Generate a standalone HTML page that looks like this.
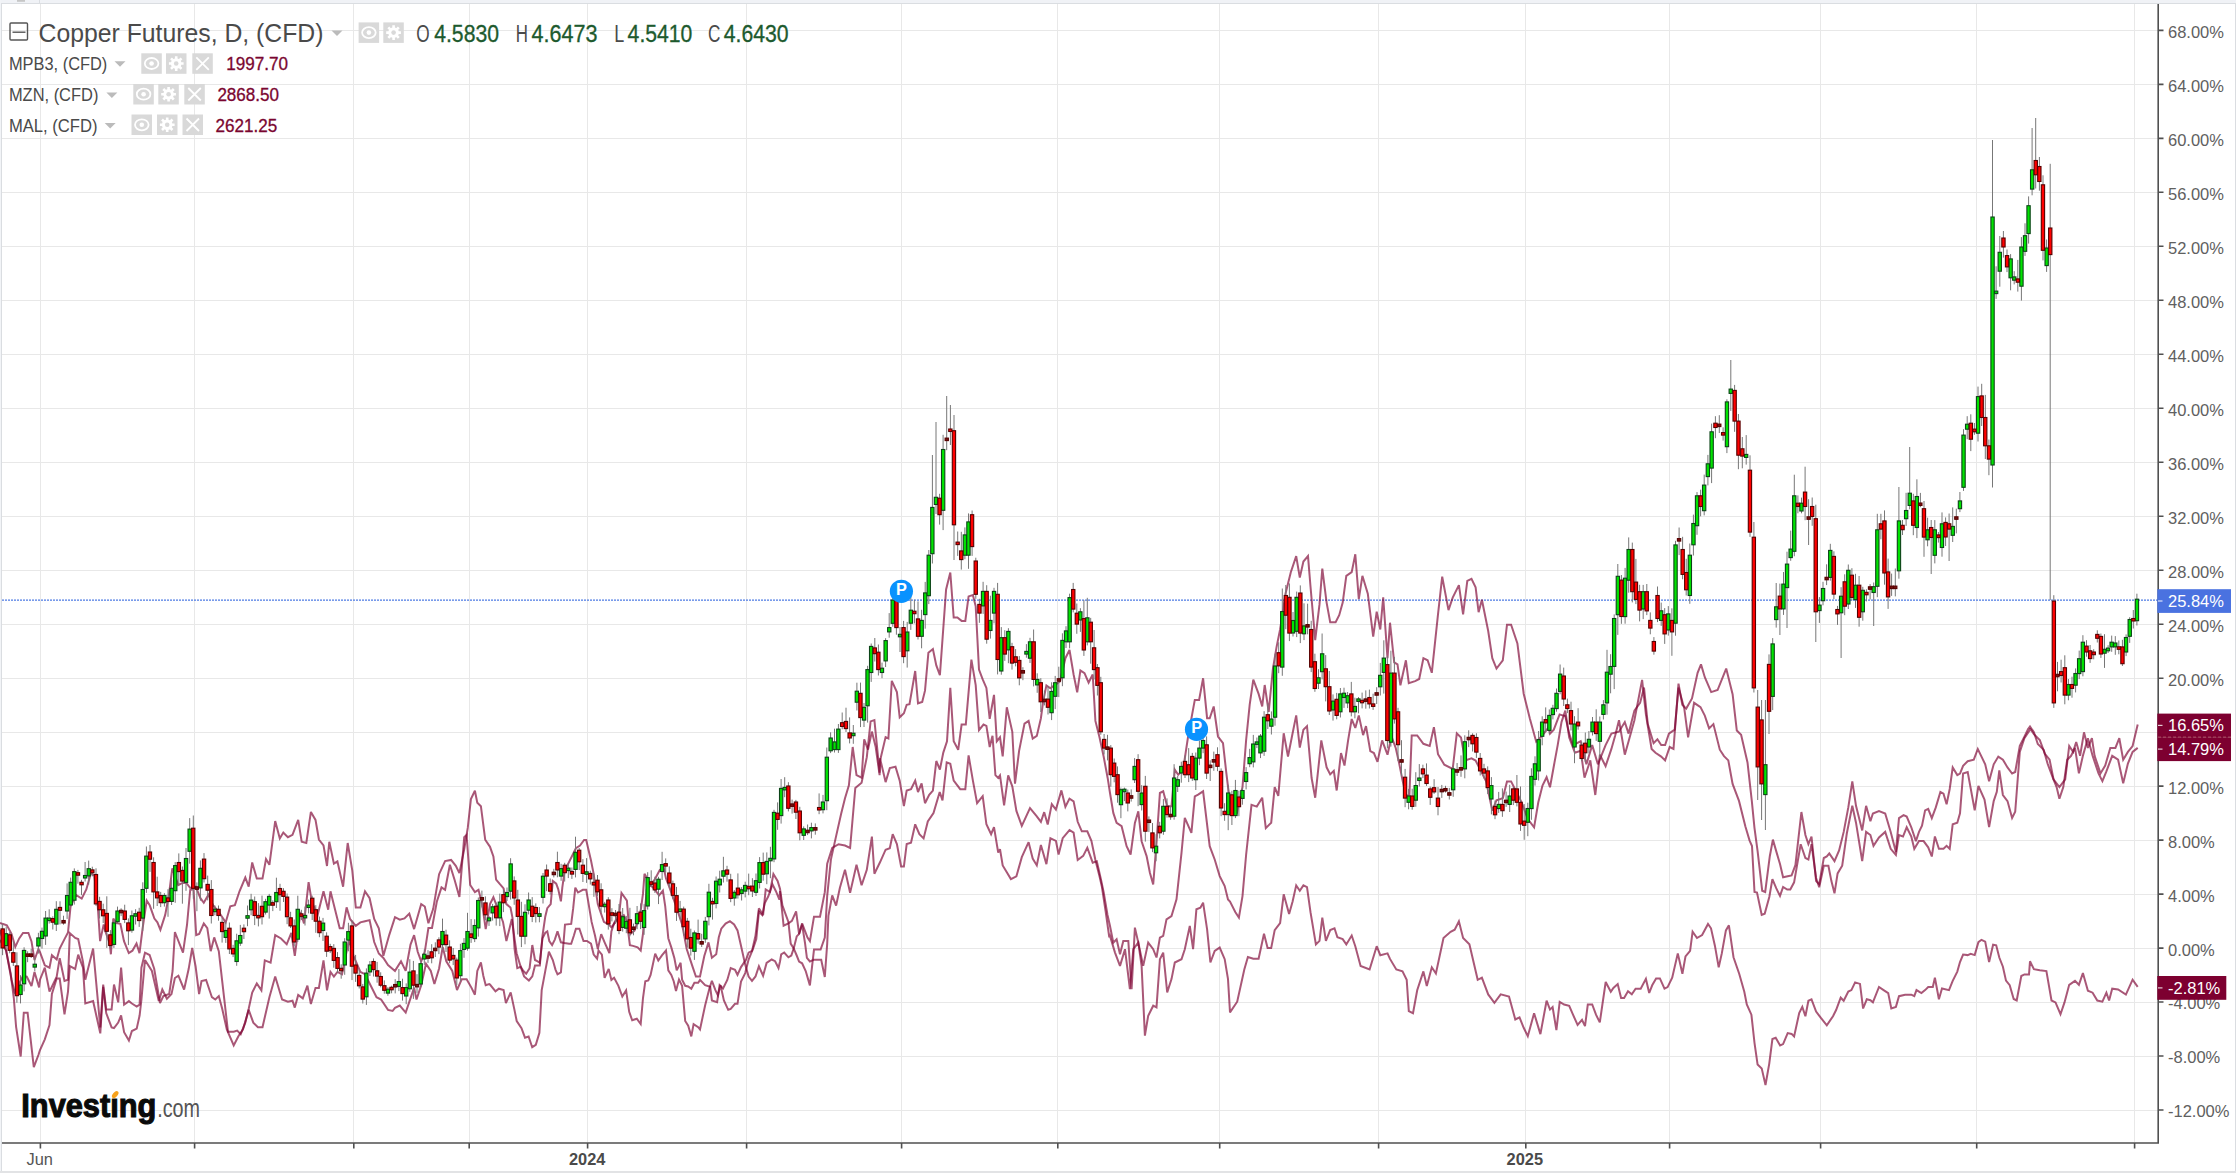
<!DOCTYPE html>
<html><head><meta charset="utf-8"><title>Copper Futures Chart</title><style>html,body{margin:0;padding:0;background:#fff;}body{width:2236px;height:1173px;overflow:hidden;}svg{display:block;}</style></head><body><svg width="2236" height="1173" viewBox="0 0 2236 1173"><rect x="0" y="0" width="2236" height="1173" fill="#ffffff"/><rect x="0" y="0" width="2236" height="3" fill="#f0f2f6"/><rect x="0" y="3" width="2236" height="1" fill="#dadde1"/><rect x="17" y="0" width="8" height="1.8" fill="#c6c6c6"/><rect x="39" y="0" width="1" height="3" fill="#dadde1"/><rect x="0" y="0" width="1" height="1173" fill="#f2f4f7"/><rect x="1" y="3" width="1" height="1170" fill="#dadde1"/><rect x="2235" y="3" width="1" height="1170" fill="#dadde1"/><rect x="0" y="1171" width="2236" height="2" fill="#e2e3e5"/><path d="M2 30.4H2158M2 84.4H2158M2 138.4H2158M2 192.3H2158M2 246.3H2158M2 300.3H2158M2 354.3H2158M2 408.3H2158M2 462.2H2158M2 516.2H2158M2 570.2H2158M2 624.2H2158M2 678.2H2158M2 732.1H2158M2 786.1H2158M2 840.1H2158M2 894.1H2158M2 948.1H2158M2 1002H2158M2 1056H2158M2 1110H2158M40.4 4V1142M194.6 4V1142M353.8 4V1142M469.2 4V1142M587.6 4V1142M746.6 4V1142M901.6 4V1142M1057.8 4V1142M1219.7 4V1142M1378.6 4V1142M1525.8 4V1142M1669.6 4V1142M1820.6 4V1142M1976.7 4V1142M2134.6 4V1142" stroke="#e8e8e8" stroke-width="1" fill="none" shape-rendering="crispEdges"/><path d="M2 600.2H2158" stroke="#4d7be3" stroke-width="1.2" stroke-dasharray="2 1" fill="none"/><g fill="none" stroke="#7d0030" stroke-opacity="0.66" stroke-width="2" stroke-linejoin="miter" stroke-miterlimit="3"><polyline points="0,922.8 2.3,923.8 6.9,925.3 11.5,933.8 15.3,946.8 19.2,938.4 23,933 28.4,933 31.5,941.4 34.5,960 38.4,949 40,952.2 44.8,965.3 49.5,967.7 51.9,955.2 56.7,959.4 59.7,948.6 64.5,939.1 68,932.5 70.6,906 76,895 81.7,898.6 86.3,889.4 90.9,873.3 94.4,875.6 97.8,906.7 100.1,941.1 103.7,924.4 105.5,931.6 109.7,943.5 110.9,954.3 113.3,918.5 116.3,923.2 120.4,923.8 124,941.1 128.8,953.1 132.4,950.7 136.5,943.5 139.5,953.1 142.5,929.2 146.7,900.6 149.7,905.3 154.4,918.5 157.4,922.3 160.4,929.8 165.2,914.9 168.8,895.8 172.3,868.4 178.3,885 183,882.7 186.7,883.3 190.2,888 195.8,886.7 200.4,898.2 203.8,902.8 208.4,894.8 213,905.1 218.8,912 225.7,922.4 230.3,906.3 234.9,905.1 239.5,891.3 245.3,877.5 248.7,886.7 252.2,862.5 256.8,878.6 262.5,878.6 266,859.1 269.4,864.8 275.2,821.1 279.8,838.4 283.3,832.6 287.9,837.2 292.5,834.9 298.2,819.9 301.7,841.8 306.3,843 310.9,811.9 315.5,819.9 318.9,839.5 323.5,845.3 327,866 329.3,841.8 333.9,863.7 337.4,861.4 343.1,886.7 347.7,843 352.3,870.6 355.8,907.4 360.4,907.4 365,891.3 369.6,898.2 374.2,918.9 378.8,928.2 383.4,955.8 389.2,935.1 395,917.2 399.8,919.6 404.5,918.4 409.3,913.6 414.1,929.1 421.2,904.1 424.8,906.5 428.4,923.2 433.2,908.8 439.1,874.2 445.1,861.1 451.1,859.9 455.8,865.9 459.4,873.1 464.2,849.2 467.8,827.7 470.9,799.1 474.9,790.7 477.3,802.7 480.9,806.2 485.2,839.7 489.2,845.6 490,846.8 493.4,856.4 496.1,879.6 499.5,883.7 503.6,888.4 506.4,904.1 510.5,907.5 512.5,917.8 514.6,949.1 517.3,968.2 520.7,966.9 524.1,976.4 528.9,980.5 532.3,976.4 535,965.5 539.8,965.5 542.5,935.5 545.3,916.4 547.3,908.2 550.7,904.1 552.8,880.9 556.2,883.7 558.2,889.1 560.9,901.4 562.3,887.7 564.4,872.7 566.4,867.3 575.9,848.2 580,845.5 584.1,840 586.2,840 591,860.5 593.7,874.1 596.4,894.6 597.8,904.1 599.2,908.2 603.9,921.9 608.7,924.6 611.4,927.3 618.4,918.3 623.8,915.2 626.9,921.3 629.9,945.1 633,945.9 637.6,947.4 640.7,950.5 643,933.6 646.8,889.1 650.6,885.3 654.5,889.1 659.1,895.3 662.9,890.7 665.2,906 668.3,938.2 671.3,947.4 674.4,958.2 676.7,970.4 680.6,962.8 682.1,979.6 685.2,985.8 688.2,986.5 691.3,988.8 694.4,982.7 698.2,982.7 700,979.9 705.1,985.1 710.2,986.8 711.9,1000.4 717.1,1002.1 719.6,985.1 723,988.5 727.3,979.9 730.7,968 735,969.7 737.5,974.8 741,967.1 746.1,959.5 748.6,952.6 752,950.9 755.5,935.6 758.9,908.3 763.1,915.1 765.7,889.5 770,892 773.4,874.1 777.6,881 780,888.7 782.4,905.4 788.4,922 790.7,943.6 793.7,948.4 796.7,955.5 799.1,961.5 802.1,963.3 805.7,971 809.9,985.4 814,949.6 820.6,949.6 824.8,937.6 827.2,895.8 830.9,859.6 836,836.6 841.2,813.5 845,798.2 848.9,785.4 852.7,747 856.5,775.1 861.6,777.7 864.2,739.3 868,749.6 871.9,731.6 875.7,747 879.6,775.1 880,761 885.6,737.1 888.4,738.5 891.8,680.8 896.9,692.1 899.7,717.4 903.9,713.2 906.7,704.8 909.5,704.2 915.2,671 918,703.3 922.2,701.9 925,690.7 928.4,652.7 932.9,649 936.3,665.4 939.9,675.2 946.1,589.4 950.3,572.5 953.7,617.5 957.4,617.5 961.6,620.9 965.3,620.9 968.6,596.4 972.9,595 975.7,606.3 979,669.6 982.7,679.4 986.4,687.9 989.7,718.8 994,694.9 996.8,741.3 1000,737.3 1002.7,756.3 1006.8,707.3 1012.3,731.8 1015,783.6 1019.1,750.9 1024.5,723.6 1028.6,720.9 1032.7,738.6 1036.8,735.9 1040.9,718.2 1043.1,701.8 1046.4,685.4 1050.4,688.2 1054.5,685.4 1060,681.4 1065.4,658.2 1069.5,650 1073.6,674.5 1077.2,692.3 1080.4,670.4 1084.5,673.2 1088.6,682.7 1092.7,674.5 1095.4,720.9 1099.5,737.3 1103.6,756.3 1107.7,778.2 1110,793 1113.3,812.9 1116.6,822.9 1121.6,826.2 1126.6,846.2 1130.6,854.5 1134.9,822.9 1138.3,811.3 1141.6,841.2 1146.6,856.1 1149.9,872.8 1153.2,884.4 1156.5,842.8 1159.9,793 1163.2,791.3 1167.2,806.3 1171.5,806.3 1174.8,769.7 1178.2,774.7 1183.1,769.7 1188.1,736.5 1194.8,699.9 1199.1,699.9 1203.1,678.3 1207.1,718.2 1209.7,718.2 1213.7,706.5 1218,736.5 1223,743.1 1226.2,771.9 1228.2,788.3 1230,801.3 1237.2,812 1242.5,787 1246.1,740.4 1249.7,704.6 1253.3,679.6 1258.6,693.9 1262.2,706.4 1264.7,685 1268.7,711.8 1272.9,668.8 1276.5,647.4 1280.1,629.5 1285.5,593.7 1290.8,572.2 1296.2,556.1 1299.8,577.6 1303.4,561.5 1308,556.1 1310.5,586.5 1315.2,640.2 1319.5,604.4 1322.3,568.6 1326.6,602.6 1330.2,622.3 1335.6,622.3 1339.2,615.2 1342.7,602.6 1346.3,575.8 1351.7,572.2 1355.3,554.3 1358.8,599.1 1362.4,575.8 1367.8,593.7 1373.2,636.6 1376.7,611.6 1380.3,629.5 1383.2,597.3 1387.5,658.1 1390,622.7 1394.2,662.3 1397.5,664.4 1400.4,685.3 1405.9,660.3 1408.8,683.2 1415.1,681.1 1419.2,679 1423.4,658.2 1427.6,660.3 1431.8,672.8 1438,614.3 1442.2,576.7 1448.5,610.1 1452.7,597.6 1458.9,585.1 1463.1,614.3 1467.3,580.9 1471.5,578.8 1475.6,587.2 1478.6,612.2 1481.9,599.7 1488.2,631 1492.3,658.2 1496.5,668.6 1502.8,660.3 1507,624.7 1511.1,624.7 1517.4,643.5 1523.7,693.7 1529.9,718.7 1536.2,741.7 1542.5,735.4 1548.7,727.1 1550,733.6 1553.8,729.7 1559.6,714.4 1565.3,716.3 1569.2,733.6 1573,745.1 1580.7,741.3 1586.4,764.3 1592.2,745.1 1597.9,764.3 1605.6,745.1 1611.4,733.6 1619,731.7 1624.8,722.1 1628.6,733.6 1634.4,710.6 1640.1,702.9 1644,687.6 1647.8,724 1653.6,743.2 1657.4,739.3 1661.2,745.1 1665.1,745.1 1668.9,733.6 1674.7,729.7 1678.5,687.6 1684.3,708.6 1688.1,737.4 1694.1,702.8 1700.5,707.1 1704.8,715.6 1709.1,728.4 1713.4,724.1 1719.8,749.7 1724,756.1 1728.3,760.4 1732.6,783.9 1739,800.9 1745.4,826.6 1749.6,840.6 1752,846 1754.5,892 1757,892.5 1761.7,915 1764.7,913.8 1769.3,897 1772.4,879.2 1776.2,888.2 1780,895.9 1783.1,886.9 1787.2,889.5 1790.3,889.5 1794.1,882.3 1800.7,844.2 1805.4,858 1808.4,859.6 1811.5,844.2 1816.1,878 1819.2,887.2 1823.8,865.7 1828.4,865.7 1831.4,881.1 1834.5,893.3 1837.6,873.4 1842.2,865.7 1846.8,833.5 1852.3,805.8 1856,822.7 1862.2,861.1 1866.1,831.9 1870.4,835 1873.5,845.8 1879,837.5 1885.2,831.9 1890.7,848.8 1895.9,855 1899,835 1903,836.5 1906.7,827.3 1911.3,836.5 1914.3,848.8 1919,841.1 1923.6,841.1 1928.2,847.3 1931.8,856.5 1934.9,836.5 1938.9,848.8 1943.5,848.8 1946.6,845.8 1949.7,848.8 1952.7,824.3 1957.3,822.7 1960,813.4 1963.1,773.5 1967.7,772 1974.7,810.3 1978.4,785.8 1984.5,799.6 1989.1,827.2 1993.7,801.1 1996.8,791.9 1999.3,770.4 2002.9,795 2007.5,801.1 2012.1,818 2015.2,811.8 2019.8,752 2024.4,738.2 2029.9,729.9 2030,728.4 2033.9,734.2 2039.8,740.1 2044.9,753.8 2049.6,759.7 2053.5,779.3 2059.4,787.1 2065.2,779.3 2069.2,746 2073.1,751.9 2076.2,742.1 2080.1,755.8 2084,732.3 2087.9,747.9 2091.9,738.2 2094.6,755.8 2100.5,773.4 2105.2,765.6 2110.3,747.9 2115.4,747.9 2119.3,738.2 2123.2,759.7 2127.9,751.9 2132.6,746 2137.7,724.4"/><polyline points="0,930 6.1,950.6 11.5,979.8 14.6,992 23,976 26.8,976.7 31.5,986 34.5,972 39.1,987.5 40,979.7 44.8,967.7 49.5,991.6 51.9,986.8 56.7,976.7 59.7,958.2 64.5,980.9 68,979.7 69.8,933.1 75.2,937.9 78.2,939.1 83,961.8 85.3,979.7 93.1,948.6 100.3,1027.4 103.2,984.5 106.2,1009.5 111.6,1009.5 114,984.5 118.2,1002.3 121.1,967.7 124.1,1004.7 128.9,1001.1 131.9,1003.5 136.7,1006.5 139.6,1004.7 141.4,967.7 145,952.7 149.6,955 154.2,968.8 160,1003 163.4,996 169.2,994 172.6,971 174.9,932 178.4,941 183,952.7 187,925 190.2,890 193.5,889 196.2,935 199.2,933.9 203.8,923.5 207.3,928.2 210.7,951.2 214.2,937.4 218.8,951.2 222.2,981.1 228,1031.8 233.7,1031.8 237.2,1030.6 240.7,1034.1 245.3,1022.6 248.7,1008.7 252.2,992.6 256.8,983.4 261.4,990.3 264.8,960.4 270.6,962.7 275.2,935.1 281,938.5 286.7,944.3 291.3,932.8 294.8,955.8 300.5,912 304,923.5 308.6,882.1 312,902.8 317.8,914.3 323.5,891.3 328.2,909.7 330.5,891.3 335.1,909.7 339.7,928.2 343.1,928.2 346.6,907.4 350,918.9 355.8,925.8 360.4,922.4 365,921.2 369.6,920.1 374.2,942 378.8,953.5 383.4,958 388,965 395,970.9 401,961.3 405.7,970.9 410.5,944.6 414.1,935.1 417.7,951.8 421.2,961.3 424.8,951.8 428.4,928 432,927.9 436.8,901.7 441.5,887.4 445.1,889.8 449.9,864.7 454.7,880.2 459.4,896.9 464.2,837.3 466.6,834.9 470.2,885 474.9,892.1 478.5,889.8 482.1,904.1 485.7,929.1 489.2,908.8 490,904.1 493.4,897.3 496.1,904.1 498.9,910.9 503,921.9 506.4,941 509.8,927.3 511.8,919.1 513.9,934.1 516.6,953.2 520.7,966.9 523.4,971 526.2,973.7 529.6,968.2 532.3,945 535,960 537.7,961.4 539.8,962.8 542.5,938.2 545.3,932.8 547.3,931.4 549.3,941 552.1,945 554.8,939.6 557.5,931.4 560.9,942.3 564.4,943 569.1,943.7 571.2,943.7 573.9,935.5 575.9,928.7 579.4,928.7 583.5,941 586.9,941 591,943.7 593.7,954.6 597.1,958.7 598.5,950.5 601.9,954.6 604.6,977.8 608.7,968.9 611.4,979.9 614.1,977.8 618.4,985.8 622.3,996.5 626.1,990.4 629.2,1011.8 632.2,1020.3 636.8,1018.7 640.7,1024.1 643,998 645.3,981.2 648.3,980.4 650.6,975 652.9,964.3 655.2,953.6 658.3,960.5 662.1,955.1 666,950.5 668.3,970.4 671.3,975 673.7,981.2 676,991.1 679,979.6 682.1,985.8 685.2,1021 688.2,1025.6 691.3,1036.4 693.6,1024.1 698.2,1027.2 700,1029.4 705.1,1005.5 709.4,988.5 711.9,980.8 715.4,990.2 717.9,995.3 720.5,985.1 723.9,1000.4 728.2,1009.8 730.7,1008.9 735,1003.8 737.5,1003.8 741,981.6 745.2,973.1 748.6,959.5 752.9,949.2 756.3,939 758.9,911.7 762.3,915.1 764.8,903.1 768.3,896.3 772.5,884.4 775.9,891.2 779.4,899.7 780,891 783.6,925.7 788.4,923.3 791.9,920.9 796.1,911.3 799.1,934 802.1,923.3 807.5,937.6 809.9,941.2 814,916.7 820,916.7 824.8,892.2 827.2,863.6 832.2,848 838.6,844.2 845,845.5 850.1,848 855.3,788 861.6,782.8 866.8,757.2 870.6,721.4 874.4,720.1 879.6,772.6 880,758.2 885.6,782.1 889.8,768.1 895.5,766.7 899.7,780.7 903.9,806 906.7,790.6 911,789.2 915.2,780.7 918,792 921.6,783.5 925,803.2 929.2,794.8 932.9,790.6 936.3,761 939.9,769.5 943.3,752.6 947,741.3 950.3,687.9 953.7,741.3 958.2,749.8 961.6,724.5 965.8,724.5 971.4,659.7 975.7,685.1 979,730.1 983.5,724.5 986.4,725.9 989.7,747 992.5,735.7 995.4,775.1 998.2,777.9 1000,775.4 1004.1,805.4 1008.2,775.4 1012.3,786.3 1016.4,810.9 1021.8,825.9 1030,808.2 1036.8,816.3 1040.9,821.8 1044.2,812.2 1047.7,824.5 1051.8,804.1 1055.9,809.5 1061.4,790.4 1065.4,806.8 1069.5,798.6 1073.6,801.3 1077.7,821.8 1081.8,831.3 1087.3,831.3 1091.4,840.9 1095.4,860 1099.5,876.3 1101.9,886.8 1105.6,911.2 1109.3,937.4 1110,935.9 1115,952.6 1120,965.9 1125,949.2 1129.9,989.1 1133.3,949.2 1138.3,942.6 1141.6,965.9 1144.9,1035.7 1148.2,1015.7 1153.2,1005.7 1156.5,1007.4 1159.9,959.2 1163.2,952.6 1167.2,992.4 1171.5,979.1 1174.8,962.5 1181.5,959.2 1184.8,949.2 1189.8,926 1193.1,949.2 1196.4,909.3 1200.4,907.7 1203.1,902.7 1207.1,929.3 1210.4,962.5 1214.7,950.9 1219.7,947.6 1224.7,959.2 1228,979.1 1230,1012.4 1237.2,1001.7 1244.3,969.5 1247.9,957 1253.3,958.8 1258.6,958.8 1264,933.7 1267.6,948 1271.2,948 1274.7,930.1 1280.1,923 1283.7,894.3 1289.1,914 1292.6,901.5 1296.2,885.4 1299.8,890.8 1303.4,885.4 1307,887.2 1310.5,912.2 1315.9,944.4 1319.5,940.9 1322.3,917.6 1325.9,940.9 1330.2,930.1 1334.5,928.3 1337.4,937.3 1342.7,939.1 1346.3,944.4 1351.7,935.5 1355.3,946.2 1360.6,965.9 1369.6,969.5 1376.7,946.2 1380.3,955.2 1387.5,953.4 1390,958.9 1396.3,969.4 1402.5,971.4 1406.7,979.8 1408.8,1011.1 1413,1013.2 1417.2,990.2 1423.4,971.4 1426.8,986.1 1431.8,967.3 1435.9,973.5 1443.5,938 1450.6,931.8 1454.7,929.7 1458.9,921.3 1463.1,938 1469.4,944.3 1477.7,979.8 1481.9,977.7 1488.2,994.4 1494.4,1002.8 1500.7,994.4 1509,996.5 1515.3,1019.5 1519.5,1017.4 1523.7,1027.8 1527.8,1036.2 1534.1,1013.2 1540.4,1034.1 1546.6,1000.7 1550,1009.6 1552.6,1007.1 1556.4,1030.1 1559.7,1001.9 1564.1,1004.5 1569.2,1005.8 1573,1014.7 1577.6,1024.9 1582,1019.8 1585,1026.2 1587.8,1004.5 1592.2,1004.5 1596,1014.7 1599.8,1022.4 1602.4,1004.5 1605.7,982 1610.8,991.7 1613.4,987.9 1617.7,984 1621.1,998.1 1624.1,998.1 1628,991.2 1631.8,994.3 1635.6,988.7 1640.7,988.7 1645.9,978.9 1649.2,993 1652.2,985.3 1656.1,978.4 1659.9,978.4 1664.5,988.7 1667.6,987.1 1672.2,977.7 1677.8,953.4 1682.4,973.8 1685.5,956.4 1690.1,950.8 1692.6,931.6 1697,938 1702.1,935 1708,924 1711,928.3 1714.9,945.7 1718.7,967.4 1721.8,953.4 1725.9,930.4 1728.9,925.3 1733.5,957.2 1739.2,973.8 1744.3,991.7 1746.8,1004.5 1751.4,1014.7 1754.5,1042.8 1757.6,1064.6 1761.7,1068.4 1765.5,1085 1769.3,1063.3 1772.4,1039 1775.7,1037.7 1780.1,1045.4 1783.1,1044.1 1787.7,1033.1 1791.6,1033.9 1794.1,1036.5 1799.2,1013.1 1802.3,1006.9 1805.4,1016.2 1808.4,1000.8 1811.5,999.3 1816.1,1011.6 1820.7,1017.7 1826.8,1025.4 1833,1016.2 1836.1,1010 1840.7,997.7 1843.7,1000.8 1848.3,991.6 1851.4,990.1 1855.1,982.4 1860,983.9 1863.1,1008.5 1866.8,999.3 1870.4,1000.2 1872.9,1002.3 1879,987 1883.6,990.1 1888.2,993.1 1891.3,1008.5 1895.9,1006.9 1899,996.2 1905.1,994.7 1911.3,994.7 1914.3,996.2 1916.5,990.1 1921.4,993.1 1925.1,990.1 1928.2,987 1932.8,987 1934.9,977.8 1938.9,999.3 1942,988.5 1949,990.1 1952.7,980.8 1957.3,971.6 1960,962.1 1963.1,954.5 1967.7,955.1 1970.7,953.9 1974.7,955.1 1978.4,942.2 1981.5,939.8 1985.2,941.6 1989.1,962.1 1993.1,944.7 1996.2,945.3 1999.3,957.5 2002.9,966.7 2006,980.6 2009.7,985.2 2013.7,999 2016.7,1000.5 2021.3,976 2024.4,974.4 2029,974.4 2030,961.3 2033.9,969.2 2039.8,970.3 2046.4,971.1 2051.5,1000.5 2055.5,1002.4 2060.5,1014.2 2064.5,1002.4 2069.2,984.8 2075,980.9 2078.9,984.8 2082.9,973.1 2087.9,990.7 2092.6,992.7 2097.3,1000.5 2102.4,1001.7 2106.4,992.7 2109.1,1000.5 2112.2,988.7 2118.1,989.5 2125.9,994.6 2132.6,979.7 2137.7,986.8"/><polyline points="0,940 6.1,950.6 10.7,973.6 13.8,998 16.1,1027 20.7,1056.5 23.8,1012.8 27.6,1012.8 33.8,1067.2 38.4,1055 40,1050 44.8,1039.3 49.5,1025 51.9,994 56.7,978.5 59.7,978.5 64.5,1014.3 68,991.6 69.8,966 75.2,968.9 78.2,954.6 83,967.7 85.3,1003.5 93.1,1001.1 100.3,1033.4 103.2,986.8 106.2,1013.1 111.6,1027.4 114,1028 118.2,1022.6 121.1,1015.5 124.1,1032.2 128.9,1040.5 131.9,1031 136.7,1028.6 139.6,1015.5 141.4,1000 145,960 151.9,971 158.8,1001 162.3,989.5 166.9,998.7 171.5,994.1 174.9,978 178.4,975.7 184.1,989.5 188.7,968.8 192.2,948 195.6,966.5 199.1,994.1 201.5,981.1 206.1,980 211.9,997.2 215.3,999.5 218.8,996.1 222.2,1008.7 226.8,1029.4 233.7,1045.5 238.4,1036.2 243,1029.4 248.7,1009.9 253.3,1022.6 257.9,1027.2 262.5,1027.2 269.4,997.2 275.2,976.5 282.1,999.5 287.9,1001.8 292.5,1000.7 294.8,1007.6 298.2,994.9 302.8,998.4 307.4,985.7 310.9,1004.1 315.5,988 318.9,988 323.5,960.4 327,990.3 330.5,971.9 333.9,976.5 337.4,971.9 342,974.2 346.6,951.2 348.9,939.7 353.5,955.8 360.4,971.9 365,974.2 371.9,988 376.5,997.2 381.1,999.5 388,1009.9 392.6,1011 395,1007.9 399.8,1005.5 405.7,1012.6 409.3,1001.9 414.1,987.6 416.5,999.5 421.2,985.2 426,963.7 430.8,970.9 434.4,984 439.1,968.5 442.7,947 446.3,961.3 452.3,970.9 457,990 461.8,979.2 466.6,979.2 471.4,987.6 474.9,994.7 477.3,970.9 480.9,962.5 483.3,975.7 485.7,985.2 489.2,984 490,984.6 495.5,991.4 498.9,988.7 503.6,990 505.9,1003.1 510.7,992.4 514.3,1009.1 516.7,1021 521.5,1028.1 525,1037.7 528.6,1036.5 532.2,1047.2 535.8,1044.8 539.4,1032.9 541.7,990 545.3,970.9 548.9,951.8 552.8,960 555.5,969.6 557.5,974.4 560.9,972.3 563,949.1 565,924.6 571.2,923.9 573.2,908.2 575.3,887.7 578,892.5 582.8,889.8 586.2,889.8 588.2,901.4 591.6,921.9 595,935.5 597.8,949.1 601.2,934.1 604.6,942.3 609.4,953.2 611.4,931.4 614.1,923.2 619.2,913.7 621.5,893 626.9,900.6 628.4,919.8 630.7,933.6 634.5,930.6 638.4,919.8 640.7,910.6 643,893.7 644.5,873.8 650.6,884.5 654.5,879.9 659.8,870 663.7,867.7 666,878.4 669,886.1 676,906 682.1,924.4 686.7,949 692.8,967.4 695.9,976.6 700,976.5 704.3,956 708.5,942.4 711.9,957.7 716.2,954.3 718.8,937.3 721.3,928.7 725.6,923.6 729.9,921.1 734.1,924.5 737.5,930.4 741,945.8 745.2,964.6 748.6,976.5 752,980.8 755.5,976.5 758.9,966.3 763.1,975.7 766.6,962.9 771.7,959.5 775.1,961.2 778.5,968 780,961.5 781.2,954.3 784.2,952.5 788.4,957.3 791.3,955.5 793.7,948.4 796.7,936.4 799.1,934 802.1,924.5 805.1,943.6 806.9,957.9 809.9,961.5 814,959.7 821.2,959.7 824.8,977 827.2,943.6 828.4,915.9 832.2,895.4 836.1,905.6 839.9,887.7 845,869.8 850.1,892.9 856.5,864.7 861.6,885.2 866.8,869.8 871.9,836.6 874.4,873.7 880,862.3 885.6,849.7 889.8,848.3 892.7,834.2 896.9,844 901.1,866.5 903.9,866.5 906.7,844 911,842.6 915.2,824.3 919.4,834.2 923.6,838.4 927.8,821.5 933.5,813.1 939.7,792 942.5,800.4 946.7,762.4 950.3,763.8 953.7,780.7 960.2,789.2 965.3,789.2 968.6,755.4 972.9,780.7 977.1,803.2 982.7,796.2 986.4,824.3 991.1,834.2 994,827.2 998.2,852.5 1000,849.1 1002.7,865.4 1006.8,872.2 1010.9,879.1 1016.4,876.3 1021.8,857.2 1028.6,842.2 1032.7,858.6 1036.8,865.4 1040.9,845 1046.4,864.1 1050.4,838.2 1055.9,840.9 1058.6,854.5 1062.7,838.2 1069.5,830 1073.6,832.7 1077.7,860 1083.2,855.9 1087.3,847.7 1092.7,862.7 1096.8,861.3 1100.9,879.1 1103.7,892.5 1107.5,914.9 1110,926 1113.3,942.6 1116.6,939.3 1120,954.2 1123.3,940.9 1128.3,940.9 1131.6,989.1 1134.9,927.6 1138.3,942.6 1143.2,965.9 1148.2,942.6 1153.2,949.2 1156.5,957.5 1159.9,937.6 1163.2,935.9 1166.5,919.3 1171.5,916 1176.5,899.4 1181.5,852.8 1184.8,817.9 1191.4,832.9 1194.8,796.3 1198.1,794.6 1203.1,791.3 1209.7,846.2 1214.7,859.5 1219.7,876.1 1224.7,886.1 1228,899.4 1230,901.5 1235.4,912.2 1238.9,917.6 1242.5,896.1 1246.1,855 1251.5,804.9 1256.8,806.6 1262.2,797.7 1265.8,828.1 1271.2,822.7 1274.7,787 1278.3,795.9 1283.7,733.3 1288,756.5 1292.6,733.3 1296.2,715.4 1299.8,747.6 1303.4,729.7 1307,726.1 1311.6,778 1315.2,797.7 1321.3,740.4 1326.6,767.3 1330.2,774.4 1333.8,770.9 1336.7,790.5 1341,753 1344.5,765.5 1348.1,740.4 1351.7,719 1355.3,727.9 1358.8,715.4 1363.1,735.1 1366,726.1 1370.3,751.2 1373.9,753 1377.5,761.9 1382.1,740.4 1387.5,754.7 1391.5,736.3 1395.8,748.2 1399.2,763.5 1402.6,780.6 1406,795.9 1409.4,795 1411.7,735.4 1417.2,735.4 1423.4,743.8 1429.7,745.9 1433.9,727.1 1438,754.2 1444.3,764.7 1452.7,768.9 1456.8,733.4 1461,737.5 1465.2,760.5 1471.5,758.4 1475.6,760.5 1479.8,768.9 1486.1,781.4 1492.3,810.6 1496.5,800.2 1502.8,798.1 1507,781.4 1511.1,781.4 1515.3,789.7 1521.6,802.3 1527.8,819 1534.1,827.3 1538.3,802.3 1542.5,785.6 1546.6,777.2 1550,787.3 1553.8,766.2 1557.7,745.1 1561.5,722.1 1565.3,710.6 1569.2,737.4 1574.9,752.8 1580.7,750.8 1584.5,777.7 1590.3,760.4 1595.3,795 1599.9,754.7 1605.6,766.2 1611.4,748.9 1615.2,735.5 1619,720.2 1624.8,754.7 1628.6,741.3 1634.4,720.2 1642.1,679.9 1645.9,714.4 1651.6,748.9 1655.5,752.8 1661.2,756.6 1665.1,760.4 1669.7,747 1673.5,748.9 1678.5,683.7 1682.3,704.8 1686.2,708.6 1692,698.5 1697.6,672.9 1701,664.4 1704.8,677.2 1711.2,692.1 1717.6,690 1726.2,668.6 1732.6,694.2 1736.8,730.5 1741.1,734.8 1747.5,762.5 1751.8,800.9 1754.5,828.1 1757.6,851.1 1762.2,890.7 1765.2,892 1769.8,856.2 1772.9,839.6 1776.2,851.1 1780,863.9 1783.1,877.2 1787.7,876.2 1791.6,875.4 1795.4,865.2 1801.4,812 1805.4,835 1808.4,844.2 1811.5,836.5 1816.1,881.1 1819.2,884.1 1823.8,858 1826.8,856.5 1829.3,853.4 1834.5,861.1 1839.1,850.4 1843.7,831.9 1848.3,807.4 1852.3,781.3 1856,805.8 1862.2,830.4 1866.1,805.8 1870.4,821.2 1872.9,813.5 1879,811.1 1885.2,813.5 1890.7,831.9 1895.9,851.9 1899,818.1 1903.6,815.1 1906.7,816.6 1911.3,827.3 1915.9,841.1 1919,831.9 1922,825.8 1925.1,810.4 1928.2,808.9 1931.8,818.1 1935.8,807.4 1940.4,792 1943.5,793.6 1946.6,804.3 1949.7,789 1952.7,767.5 1957.3,775.1 1960,773.5 1963.1,765.8 1967.7,761.2 1973.8,759.7 1977.8,749 1981.5,756.6 1985.2,764.3 1989.1,781.2 1993.7,764.3 1998.3,756.6 2002.9,759.7 2007.5,767.4 2012.1,773.5 2015.2,772 2019.8,745.9 2024.4,736.7 2028.1,729 2030,726.4 2033.9,732.3 2037.8,744 2043.7,749.9 2047.6,763.6 2052.7,777.3 2056.6,787.1 2059.4,798.8 2063.3,787.1 2067.2,759.7 2071.1,755.8 2075,747.9 2078.9,773.4 2082.9,755.8 2087.9,738.2 2092.6,755.8 2098.5,773.4 2102.4,781.2 2106.4,771.4 2112.2,755.8 2118.1,759.7 2123.2,783.2 2127.9,763.6 2132.6,751.9 2137.7,747.9"/></g><path d="M2.6 924.2V955.2M6.2 926.5V948.6M9.7 932.2V953.3M13.3 941.2V966M16.9 952.3V1002.8M20.5 975.2V1003.4M24.1 947.3V991.4M27.6 951.3V962.2M31.2 948.8V958M34.8 957.4V971.3M38.4 932.8V953.6M42 927.6V948.6M45.6 911V944.9M49.2 909.3V923.6M52.8 916.3V929.5M56.3 901.2V931M60 901.3V924.4M63.5 915.7V924.7M67.1 883.4V918.9M70.7 877.6V907.2M74.3 868.4V904.6M77.9 869.9V883.7M81.5 879.8V895.2M85.1 862V881.5M88.7 860.6V884.6M92.3 866.7V876.4M96 868.3V905.8M99.6 896.8V918.5M103.2 903.7V923.1M106.8 896.3V947.9M110.4 930.1V948.3M113.9 920.5V947.9M117.5 906.6V923.7M121.1 908.3V916.1M124.7 904.7V923.1M128.4 918.4V945.1M131.9 910.5V932.7M135.6 909.2V924.5M139.2 907.8V926.9M142.8 882.3V930.9M146.4 846.5V892.9M150 845V871.9M153.6 857.3V908.8M157.2 876.7V906M160.7 891.9V907.1M164.4 893.2V906.6M168 889.2V916.8M171.6 879.6V905M175.2 862.1V902.8M178.8 853.4V885.3M182.4 866.5V903.7M186 848V890.8M189.7 818.1V863.7M193.3 815.5V898.7M196.9 882.4V911.2M200.4 860.4V900.7M204 853.1V882.5M207.7 875.6V900.4M211.3 880.1V923.5M214.9 905.5V915.3M218.5 905.5V920.7M222.1 917.9V942.6M225.8 921.6V942.9M229.4 922.5V954M233.1 944.8V957.1M236.7 933.7V965.8M240.3 924.9V945.9M243.9 924.4V939M247.5 905.5V926.2M251.1 893.8V915.3M254.7 896.5V925.1M258.4 903.1V926.4M262 895.6V924.5M265.6 898.8V914.5M269.2 893.9V918.6M272.8 900.4V911.1M276.4 877.7V908M280 883.8V910.8M283.5 888.2V902M287.1 893.5V924.2M290.6 911.8V928M294.2 919.5V946.4M297.8 895.7V941.9M301.4 909.8V920.1M305 906.6V925.5M308.6 899.6V913.4M312.2 895.6V920M315.8 905.2V932.8M319.4 916.6V937.2M323 917.9V941M326.6 932.3V956.9M330.2 943.8V953.1M333.8 944.2V967.7M337.5 952.1V972.9M341.2 964.3V978.7M344.7 938.2V974.8M348.4 922.8V951.3M352 920.4V980.1M355.6 954.9V981.9M359.2 969.7V988.5M362.8 983.9V1003.5M366.4 968.4V1004.9M369.9 961V976M373.5 958.4V976.5M377.1 961.9V982.7M380.7 972.3V987.3M384.3 980.4V993.7M387.9 987.1V995.7M391.6 985.7V993.3M395.2 979.2V993.4M398.9 969V991.1M402.5 978.7V1000.6M406.2 983.4V1004.2M409.8 959.2V991.8M413.4 960.9V998.9M417 974.2V992.9M420.7 960.1V986.9M424.3 949.3V964.9M428 950.2V962.9M431.7 944.2V963.3M435.3 942.3V957M438.9 937.3V954.1M442.5 918.6V950.1M446 929.7V952M449.6 940.3V963.3M453.2 948V965.1M456.8 957.6V985.1M460.4 943.8V981.3M464 938.1V957.8M467.5 912.8V950.7M471.1 919.1V942.9M474.7 919.3V942.1M478.3 897.5V936.6M481.9 890.6V907.5M485.4 896.4V920.2M489 915.9V925.9M492.6 903.9V920.6M496.2 902.5V925.6M499.8 893.6V926.1M503.4 889.8V912.1M507 887.5V901M510.6 858.2V899.6M514.2 876.4V904.8M517.8 889.8V934.5M521.4 901.8V947.1M525 904.3V944.3M528.6 892.5V914.4M532.2 897.1V922.1M535.8 903.4V922.5M539.4 907.1V922.3M543 873V903.5M546.6 864.5V891.2M550.2 878.5V894.5M553.8 868.8V877.4M557.4 851.7V877.3M561.1 863.8V880.8M564.7 862.8V881.5M568.3 863.1V878.1M571.9 867.5V878.9M575.5 836.7V877.4M579.2 848V870.1M582.9 859.1V882M586.6 858.1V882.9M590.3 870.7V884.5M593.9 873.7V896.8M597.5 875V895.9M601.1 883.3V912.7M604.7 901.9V912.6M608.3 897.2V929.6M611.9 908.2V921.4M615.5 910V923.5M619 904V934.2M622.7 908V931.6M626.3 915.9V933.2M629.9 907.8V936.4M633.5 923.6V935.3M637.1 906V929.2M640.6 903.4V929.1M644.1 904.2V934.8M647.7 872.2V909.6M651.2 870.3V886.8M654.9 876.7V892.9M658.5 876.8V904.1M662.1 851.8V880M665.7 858.4V872.6M669.3 866.4V887.6M672.9 880.6V899.2M676.5 886.9V920.9M680.1 900.9V919.3M683.7 906.6V935.6M687.3 917.9V947.5M690.8 928.7V955.6M694.4 930.5V959.9M698.1 919.6V943.7M701.7 933.8V947M705.3 916.9V942.8M708.9 883.8V925.4M712.5 897.8V919.6M716.1 876.5V908.4M719.7 870.7V892.5M723.4 856.8V882.5M727 865.8V881.7M730.7 873.8V902.2M734.3 890.1V905.7M737.9 873.4V898.6M741.6 887.1V900.5M745.2 881.7V897.4M748.7 873.6V895.2M752.4 878.2V897M756 873.5V896M759.6 857.1V888.5M763.2 852.6V880.7M766.8 852.4V884.2M770.4 846.8V878.2M774 809.8V862.2M777.6 802.4V829.8M781.1 779V823.6M784.7 777.2V797.2M788.4 782.2V811.4M792.1 799.6V813.6M795.9 799.9V819M799.8 806.8V840.3M803.7 826.4V840M807.6 824.5V835.1M811.4 822.7V838.4M815.3 823.4V834.7M819.1 793.4V814.2M823 794.9V813.4M826.8 747.5V810.2M830.6 732.3V753.1M834.5 728.7V752.5M838.4 724V752.9M842.2 712.5V729.3M846 707.7V732M849.6 717.4V743.4M853.3 725V743.8M856.9 682.7V710.5M860.5 682.6V727.1M864 703V727M867.6 665.8V722.6M871.2 643.5V681.9M874.8 638V661.5M878.4 644.5V675.5M882 662.6V678.2M885.6 638.2V667M889.2 613.1V637.7M892.8 593.9V626.7M896.4 596.8V634.7M900 627V652M903.6 620.9V663.2M907.2 621.9V667.6M910.8 596.3V629.9M914.4 599.7V623.4M918 601.4V639.5M921.6 609.8V648.3M925.2 581.9V628.7M928.8 550V604.1M932.4 455V563.5M936 422V514M939.6 493.8V524.6M943.1 434.8V530.1M946.7 396V450.2M950.4 405V445M954 415V560M957.7 531.5V555.9M961.3 531.8V569.6M964.9 527.4V559.2M968.5 513.4V568.8M972.1 510.5V555.9M975.8 557.7V598.8M979.4 598.8V622.8M983.1 581.8V613.9M986.7 585.2V643.7M990.4 595.7V638.6M994 587.8V623.4M997.6 582.9V674.4M1001.3 627.1V674.7M1004.8 630.2V660.9M1008.4 628.2V663.2M1012 642.8V669.6M1015.6 649.1V666.4M1019.3 656.1V685.3M1022.9 667.2V680.2M1026.4 644.1V657.7M1030 637.8V663M1033.6 629.5V686.4M1037.2 673.3V692.8M1040.8 678.2V712M1044.4 690.5V705.4M1048 686.1V714.5M1051.6 682.3V720.1M1055.2 675.9V709.1M1058.8 666.7V697.1M1062.4 633.3V686.2M1066 626.2V648M1069.6 593.7V648.3M1073.2 582.9V612.4M1076.8 603.5V633.8M1080.4 608.2V631.9M1083.9 600.1V655.9M1087.3 597.8V645.4M1090.7 617.9V663.7M1094.1 630V679.5M1097.4 664V695.5M1100.8 676.8V734.8M1104.1 734V754.4M1107.5 734.8V760.4M1110.8 745.1V786.8M1114.2 758.5V782.3M1117.5 766.4V802.7M1120.9 787.6V818.2M1124.4 787.6V801.1M1127.8 789.5V811.4M1131.2 789.4V801.6M1134.6 758.1V783M1138.1 754.2V806.2M1141.7 785.1V810.5M1145.3 775.9V841.6M1148.9 816.4V832.1M1152.5 823V852.1M1156.1 834.2V861.3M1159.7 821.8V838.4M1163.4 798.9V834.8M1167 798.4V817.6M1170.6 806.2V819.8M1174.1 764.2V819.7M1177.7 775.9V792M1181.3 761.7V782.7M1185 755.4V778M1188.7 748.1V782.1M1192.3 752.9V780.9M1195.8 752.5V790M1199.4 740.5V765.2M1203.1 737.3V753.2M1206.6 736.4V779M1210.2 760.3V781M1213.8 751.6V770.8M1217.5 747.3V771.2M1221.1 768.4V816.2M1224.6 803.2V820.8M1228.2 784.8V830.2M1231.9 790.7V825M1235.4 779.9V818.1M1238.9 790.7V816.2M1242.4 787.6V804.7M1246.1 767.1V789.4M1249.7 748.8V767.2M1253.3 734.9V767.4M1256.9 737.5V748.1M1260.5 734V758.1M1264.1 711.2V755.9M1267.8 703.5V729M1271.4 711.4V734.5M1275 653.6V725.7M1278.7 642.3V673.2M1282.3 588.5V675.8M1285.8 585V629.2M1289.4 583.4V641.1M1293 612V636.5M1296.7 591.6V637.1M1300.3 585.4V643.1M1304 603.3V640.1M1307.6 603.7V634.3M1311.2 620.8V672.1M1314.9 653.7V691.8M1318.5 669.2V689M1322.1 633.5V679.4M1325.7 655.1V701.4M1329.3 671V715M1333 694.4V720.6M1336.7 692.9V719.3M1340.4 688V717.5M1344 687.7V707.9M1347.6 692V708.1M1351.3 681.9V716.4M1354.9 697.7V718.3M1358.5 697.1V713.3M1362.1 692.6V708.4M1365.8 690.4V708.7M1369.4 689.6V708.5M1373.1 693.7V709.9M1376.7 687.2V704M1380.3 662.9V695.5M1383.8 640.3V693.6M1387.4 656.2V748.3M1390.9 650.7V746.6M1394.4 656.9V723.6M1398 707.8V761.1M1401.5 740.2V776.1M1405.1 768.9V807.2M1408.6 788.9V809.3M1412.2 788.7V809.7M1415.8 772.2V806.8M1419.3 764.1V786.5M1422.9 764.7V778.1M1426.5 763.4V785.9M1430.2 786.6V804.9M1434.1 779.2V793.9M1438 787V815.3M1441.8 784.9V797.9M1445.5 785.8V792.6M1449.3 787.9V799.5M1453.2 766V796.8M1457.1 763V776M1461 755.4V776.8M1464.8 735.3V778.3M1468.7 730.3V747.1M1472.6 733.3V751.5M1476.4 733.3V757.9M1480.2 753V775.5M1484 763.8V778.5M1487.7 766.4V794.1M1491.4 777.1V814.4M1495 800.5V819.2M1498.7 791.9V812.9M1502.4 788.4V816.8M1506.1 791.6V806.9M1509.7 784.8V812M1513.3 786.9V805.1M1516.9 775V806.4M1520.5 786.5V830.9M1524.2 804.1V839.8M1527.8 802.7V836.2M1531.4 768.3V819.8M1535 756.3V785.6M1538.6 731V780.5M1542.2 716.3V745.3M1545.7 707.4V732.1M1549.3 709.4V734.2M1552.9 704.8V719.4M1556.5 688.5V711.7M1560.1 664.5V694.3M1563.7 667.6V706M1567.4 698.6V713.1M1571 701.7V730.5M1574.5 716.2V763.2M1578.1 708.2V729.7M1581.7 741.7V761.1M1585.3 732.5V762.1M1588.9 731V753.2M1592.5 717V735.5M1596.2 709.3V740.9M1599.8 716.5V758.3M1603.4 700.1V719.5M1607 649.8V714.7M1610.6 654.2V693.3M1614.2 614.4V689.1M1617.8 564V634.9M1621.4 575V623.8M1625.1 567.9V623.7M1628.7 537.4V592.7M1632.3 542.6V602.4M1635.9 558.9V604.1M1639.6 584.8V621.4M1643.2 584.9V619.1M1646.8 584V615.1M1650.3 612.4V634.3M1653.9 637.1V654.7M1657.5 586.5V622.1M1661.2 602.6V625.9M1664.7 608.1V643.9M1668.3 606.1V635.6M1671.9 608.3V655.8M1675.5 540.8V635.7M1679.1 527.5V555.1M1682.6 536.8V579.3M1686.2 558.8V595.5M1689.8 543.5V603.8M1693.4 514.6V555.5M1697 492.1V534.8M1700.6 489.7V516.3M1704.2 474.6V515.4M1707.9 454.9V485.4M1711.6 423.6V483.1M1715.4 416.2V438.2M1719.3 415.2V433M1723.1 427.3V440.6M1726.9 399.3V453.1M1730.8 360V410.9M1734.6 384.9V431.8M1738.4 414V469.2M1742.3 437V468.3M1746.2 435.1V464.6M1750 455.3V536.9M1753.9 522V692.5M1757.7 690V800M1761.6 700V820M1765.4 700V830M1769 654.4V734M1772.7 638.1V710.1M1776.2 583V627.6M1779.9 583.6V635M1783.5 572V614.9M1787 551.7V628M1790.7 530.6V560.8M1794.3 474.7V556.3M1797.9 495.4V513.3M1801.5 497.6V513.3M1805.1 466.7V520.2M1808.6 499.2V545M1812.2 497.5V525.8M1815.8 504.7V642M1819.4 597.1V622.9M1823 581.8V605.3M1826.6 564.3V585.1M1830.3 543.8V580.7M1833.9 551.3V599.1M1837.5 605.9V624.9M1841.1 587.2V658M1844.7 574.3V615.2M1848.3 564.5V609M1851.9 568.2V600.5M1855.5 573.8V607.9M1859.1 576V626.7M1862.8 586.8V620.7M1866.4 589.3V601.4M1870.1 584.1V599.5M1873.7 582.5V626M1877.3 513.8V597.2M1880.9 513.8V539.3M1884.5 510.4V584.7M1888.1 558.6V608.9M1891.6 573.6V595.9M1895.3 568.5V596.4M1898.9 487V578.7M1902.5 520V535M1906.1 492.8V525.9M1909.7 447V509.3M1913.3 493.8V535.2M1916.9 479.3V538.1M1920.4 492.9V507.2M1924 501V556.8M1927.6 517.7V546.3M1931.2 520V574M1934.8 520.1V563.4M1938.4 532V542.6M1942 512.4V556.7M1945.6 517.4V546M1949.1 513.5V561M1952.7 507.4V542M1956.3 508.7V533.4M1959.9 492V512.1M1963.5 429.2V490.9M1967.2 416.2V439.2M1970.8 414.3V451.1M1974.4 423V434.8M1978 386.6V441.5M1981.7 383.8V426M1985.3 394.9V459M1988.9 439.5V475.2M1992.5 140V487.5M1996.1 266.3V298.9M1999.8 236V286.7M2003.4 231V257.6M2007 249.5V272.1M2010.6 254.1V290.3M2014.2 271.2V284.4M2017.8 259.9V291.6M2021.4 237.1V300.6M2025 223.3V255.9M2028.6 196.4V243.6M2032.1 128V195.3M2035.7 118V188.5M2039.4 157V190.7M2043 175.3V260.4M2046.6 239.5V271.9M2050.2 163.8V600M2053.8 595.2V707.9M2057.5 661.9V691.3M2061.1 659.7V682.5M2064.8 655.3V704.3M2068.4 679V700.3M2072 676.7V697.7M2075.6 668.4V692.4M2079.2 650.6V679.1M2082.9 635.2V676.3M2086.5 640.2V656.7M2090.1 645V662.9M2093.7 649.2V659.3M2097.3 630.3V642.5M2100.9 633.5V657.9M2104.5 634.2V667.9M2108.1 645.2V653M2111.7 635.6V651.8M2115.3 636.1V654.8M2118.8 640.5V654.3M2122.4 639.8V666M2126.1 634.4V656.1M2129.7 617.2V642.9M2133.3 610V628.5M2136.9 593.7V625.5" stroke="#777777" stroke-width="1" fill="none"/><g fill="#00e400" stroke="#0c4418" stroke-width="1.1"><rect x="4.5" y="933.7" width="3.3" height="11.9"/><rect x="18.9" y="985" width="3.3" height="9.5"/><rect x="22.4" y="950.4" width="3.3" height="33.4"/><rect x="33.1" y="964.2" width="3.3" height="2.9"/><rect x="36.8" y="937.9" width="3.3" height="8.1"/><rect x="40.4" y="931.3" width="3.3" height="7.2"/><rect x="44" y="918.1" width="3.3" height="17.9"/><rect x="47.5" y="918.1" width="3.3" height="2.5"/><rect x="54.7" y="909.3" width="3.3" height="14.8"/><rect x="65.5" y="895.5" width="3.3" height="15.5"/><rect x="69.1" y="882.3" width="3.3" height="22.7"/><rect x="72.7" y="871.6" width="3.3" height="28.6"/><rect x="83.5" y="875.5" width="3.3" height="2.5"/><rect x="87.1" y="868.7" width="3.3" height="7.2"/><rect x="112.3" y="922.9" width="3.3" height="21.5"/><rect x="115.9" y="911" width="3.3" height="10.7"/><rect x="130.3" y="915.8" width="3.3" height="14.3"/><rect x="133.9" y="913.7" width="3.3" height="2.5"/><rect x="141.1" y="889.5" width="3.3" height="28.6"/><rect x="144.7" y="856.1" width="3.3" height="32.2"/><rect x="162.7" y="895.5" width="3.3" height="7.2"/><rect x="170" y="888.3" width="3.3" height="13.1"/><rect x="173.6" y="865.6" width="3.3" height="25.1"/><rect x="184.4" y="858.5" width="3.3" height="23.9"/><rect x="188" y="829.1" width="3.3" height="22.2"/><rect x="198.8" y="868.3" width="3.3" height="19.6"/><rect x="213.3" y="909.2" width="3.3" height="2.5"/><rect x="224.1" y="930.5" width="3.3" height="6.9"/><rect x="235" y="940.8" width="3.3" height="20.7"/><rect x="238.6" y="935.5" width="3.3" height="7.6"/><rect x="245.9" y="915.7" width="3.3" height="2.5"/><rect x="249.5" y="900.1" width="3.3" height="9.7"/><rect x="263.9" y="901.7" width="3.3" height="10.4"/><rect x="267.5" y="896.4" width="3.3" height="8.7"/><rect x="274.7" y="892.5" width="3.3" height="9.2"/><rect x="296.1" y="909.3" width="3.3" height="29.9"/><rect x="303.4" y="915.4" width="3.3" height="2.5"/><rect x="307" y="905" width="3.3" height="2.5"/><rect x="321.4" y="923.1" width="3.3" height="7.4"/><rect x="343.1" y="942" width="3.3" height="23"/><rect x="346.7" y="931.6" width="3.3" height="8.5"/><rect x="364.7" y="973.1" width="3.3" height="23.7"/><rect x="368.3" y="965" width="3.3" height="6.9"/><rect x="386.3" y="989.2" width="3.3" height="3.9"/><rect x="397.2" y="981.6" width="3.3" height="4.8"/><rect x="404.5" y="987.6" width="3.3" height="8.4"/><rect x="408.1" y="972.1" width="3.3" height="16.7"/><rect x="419" y="963.7" width="3.3" height="20.3"/><rect x="422.7" y="954.2" width="3.3" height="4.8"/><rect x="440.8" y="931.5" width="3.3" height="13.1"/><rect x="458.7" y="950.6" width="3.3" height="25.1"/><rect x="462.3" y="943.4" width="3.3" height="6"/><rect x="465.9" y="931.5" width="3.3" height="16.7"/><rect x="473.1" y="925.5" width="3.3" height="13.1"/><rect x="476.6" y="900.5" width="3.3" height="27.4"/><rect x="487.4" y="917.9" width="3.3" height="2.9"/><rect x="491" y="906.8" width="3.3" height="6.1"/><rect x="498.2" y="902.1" width="3.3" height="15.7"/><rect x="505.4" y="892.5" width="3.3" height="4.1"/><rect x="509" y="863.9" width="3.3" height="27.3"/><rect x="523.4" y="912.3" width="3.3" height="23.9"/><rect x="527" y="900" width="3.3" height="10.2"/><rect x="537.8" y="913.7" width="3.3" height="2.7"/><rect x="541.4" y="876.2" width="3.3" height="21.1"/><rect x="559.4" y="868.6" width="3.3" height="7.5"/><rect x="566.7" y="868.1" width="3.3" height="2.5"/><rect x="573.9" y="852.3" width="3.3" height="17.1"/><rect x="584.9" y="871.8" width="3.3" height="2.5"/><rect x="603.1" y="904.2" width="3.3" height="2.5"/><rect x="621" y="916.7" width="3.3" height="10.7"/><rect x="624.6" y="921.3" width="3.3" height="6.9"/><rect x="635.4" y="913.7" width="3.3" height="10"/><rect x="642.4" y="910.6" width="3.3" height="16.9"/><rect x="646" y="877.6" width="3.3" height="28.4"/><rect x="656.8" y="879.2" width="3.3" height="10"/><rect x="660.4" y="864.6" width="3.3" height="6.9"/><rect x="678.4" y="909" width="3.3" height="2.5"/><rect x="692.8" y="932.9" width="3.3" height="18.4"/><rect x="703.7" y="921.3" width="3.3" height="17.6"/><rect x="707.2" y="892.2" width="3.3" height="24.5"/><rect x="714.5" y="881.2" width="3.3" height="22.3"/><rect x="718.1" y="879.2" width="3.3" height="5.7"/><rect x="721.8" y="870.8" width="3.3" height="5.4"/><rect x="732.7" y="892.3" width="3.3" height="5.7"/><rect x="739.9" y="889.8" width="3.3" height="3.7"/><rect x="743.5" y="885.4" width="3.3" height="5.7"/><rect x="754.3" y="880.7" width="3.3" height="11.6"/><rect x="757.9" y="862.6" width="3.3" height="19.8"/><rect x="765.1" y="861.4" width="3.3" height="12.4"/><rect x="768.8" y="858.3" width="3.3" height="2.5"/><rect x="772.4" y="812.4" width="3.3" height="46.5"/><rect x="779.5" y="788.4" width="3.3" height="27.2"/><rect x="783.1" y="787.4" width="3.3" height="2.5"/><rect x="802.1" y="828.9" width="3.3" height="6.4"/><rect x="809.8" y="827.6" width="3.3" height="3.3"/><rect x="821.3" y="802" width="3.3" height="7.7"/><rect x="825.2" y="757.2" width="3.3" height="43.5"/><rect x="829" y="738" width="3.3" height="12.8"/><rect x="832.9" y="741.9" width="3.3" height="7.7"/><rect x="836.7" y="729.1" width="3.3" height="20.5"/><rect x="851.7" y="733.2" width="3.3" height="2.5"/><rect x="855.2" y="691.2" width="3.3" height="11"/><rect x="862.4" y="707.3" width="3.3" height="12.8"/><rect x="865.9" y="669.6" width="3.3" height="36.2"/><rect x="869.5" y="646.4" width="3.3" height="26.1"/><rect x="880.3" y="668.2" width="3.3" height="4.3"/><rect x="884" y="640.6" width="3.3" height="20.3"/><rect x="887.6" y="627.6" width="3.3" height="4.3"/><rect x="891.1" y="600.1" width="3.3" height="23.2"/><rect x="898.4" y="634.3" width="3.3" height="2.5"/><rect x="905.6" y="632" width="3.3" height="18.8"/><rect x="909.2" y="610.2" width="3.3" height="13"/><rect x="920" y="620.4" width="3.3" height="15.9"/><rect x="923.6" y="592.9" width="3.3" height="21.7"/><rect x="927.1" y="555.2" width="3.3" height="40.5"/><rect x="930.7" y="507.4" width="3.3" height="46.3"/><rect x="934.3" y="497.3" width="3.3" height="7.2"/><rect x="941.5" y="449.5" width="3.3" height="60.8"/><rect x="963.2" y="534.9" width="3.3" height="20.3"/><rect x="966.8" y="521.9" width="3.3" height="33.3"/><rect x="981.4" y="591.4" width="3.3" height="14.5"/><rect x="988.7" y="620.4" width="3.3" height="10.1"/><rect x="992.4" y="591.4" width="3.3" height="21.7"/><rect x="999.6" y="637.7" width="3.3" height="33.3"/><rect x="1006.7" y="631.4" width="3.3" height="18.5"/><rect x="1024.8" y="651.4" width="3.3" height="2.7"/><rect x="1028.4" y="641.8" width="3.3" height="16.4"/><rect x="1035.6" y="679.4" width="3.3" height="5.5"/><rect x="1049.9" y="691.4" width="3.3" height="21.3"/><rect x="1053.6" y="682.7" width="3.3" height="13.6"/><rect x="1060.8" y="640.4" width="3.3" height="37.4"/><rect x="1064.4" y="630.9" width="3.3" height="10.9"/><rect x="1068" y="597.6" width="3.3" height="44.2"/><rect x="1078.7" y="611.8" width="3.3" height="8.2"/><rect x="1085.7" y="617.8" width="3.3" height="24"/><rect x="1119.3" y="789.7" width="3.3" height="15"/><rect x="1122.7" y="789.2" width="3.3" height="2.5"/><rect x="1133" y="766.4" width="3.3" height="13.3"/><rect x="1140" y="793" width="3.3" height="11.6"/><rect x="1154.4" y="846.2" width="3.3" height="6.6"/><rect x="1161.7" y="806.3" width="3.3" height="24.9"/><rect x="1172.5" y="778" width="3.3" height="38.2"/><rect x="1176.1" y="779.7" width="3.3" height="6.6"/><rect x="1179.6" y="766.4" width="3.3" height="6.6"/><rect x="1194.2" y="758.1" width="3.3" height="21.6"/><rect x="1197.8" y="748.1" width="3.3" height="10"/><rect x="1201.4" y="740.5" width="3.3" height="7.6"/><rect x="1226.6" y="793" width="3.3" height="21.6"/><rect x="1233.8" y="790.5" width="3.3" height="25.1"/><rect x="1240.8" y="790.5" width="3.3" height="7.9"/><rect x="1244.4" y="772.6" width="3.3" height="8.9"/><rect x="1248" y="757.6" width="3.3" height="6.1"/><rect x="1251.6" y="744" width="3.3" height="17.9"/><rect x="1255.2" y="741.9" width="3.3" height="2.5"/><rect x="1258.8" y="736.1" width="3.3" height="16.8"/><rect x="1262.5" y="717.2" width="3.3" height="34"/><rect x="1269.7" y="719" width="3.3" height="7.2"/><rect x="1273.4" y="666" width="3.3" height="51.2"/><rect x="1280.6" y="611.6" width="3.3" height="55.5"/><rect x="1291.4" y="620.5" width="3.3" height="12.5"/><rect x="1295" y="597.3" width="3.3" height="34"/><rect x="1302.3" y="625.9" width="3.3" height="7.9"/><rect x="1316.8" y="677.8" width="3.3" height="5.4"/><rect x="1320.5" y="653.8" width="3.3" height="17.9"/><rect x="1331.3" y="701.1" width="3.3" height="8.9"/><rect x="1338.7" y="693.9" width="3.3" height="17.9"/><rect x="1342.3" y="693.2" width="3.3" height="4.3"/><rect x="1346" y="695.7" width="3.3" height="7.2"/><rect x="1353.2" y="706.4" width="3.3" height="5.4"/><rect x="1356.8" y="698.9" width="3.3" height="2.5"/><rect x="1378.6" y="675.3" width="3.3" height="11.5"/><rect x="1382.2" y="658.1" width="3.3" height="14.3"/><rect x="1389.3" y="673.1" width="3.3" height="69.1"/><rect x="1407" y="796" width="3.3" height="6.3"/><rect x="1414.1" y="785.6" width="3.3" height="14.6"/><rect x="1417.7" y="778" width="3.3" height="2.5"/><rect x="1451.5" y="768.9" width="3.3" height="20.9"/><rect x="1463.2" y="741.7" width="3.3" height="27.2"/><rect x="1489.7" y="785.6" width="3.3" height="13.4"/><rect x="1497.1" y="804.4" width="3.3" height="4.2"/><rect x="1508" y="796" width="3.3" height="8.4"/><rect x="1526.1" y="808.5" width="3.3" height="13.8"/><rect x="1529.8" y="776.4" width="3.3" height="32.2"/><rect x="1533.3" y="763.8" width="3.3" height="15.5"/><rect x="1537" y="739.6" width="3.3" height="31.3"/><rect x="1540.5" y="722.1" width="3.3" height="14.2"/><rect x="1547.7" y="715.4" width="3.3" height="15"/><rect x="1551.2" y="708.3" width="3.3" height="6.3"/><rect x="1554.9" y="693.3" width="3.3" height="15.3"/><rect x="1558.5" y="674.1" width="3.3" height="17.3"/><rect x="1572.9" y="724" width="3.3" height="23"/><rect x="1587.3" y="739.3" width="3.3" height="7.7"/><rect x="1590.9" y="722.1" width="3.3" height="9.6"/><rect x="1598.2" y="722.1" width="3.3" height="19.2"/><rect x="1601.8" y="704.8" width="3.3" height="9.6"/><rect x="1605.3" y="672.2" width="3.3" height="30.7"/><rect x="1608.9" y="666.5" width="3.3" height="7.7"/><rect x="1612.5" y="618.5" width="3.3" height="47.9"/><rect x="1616.2" y="576.3" width="3.3" height="38.4"/><rect x="1623.4" y="578.2" width="3.3" height="38.4"/><rect x="1627" y="549.5" width="3.3" height="30.7"/><rect x="1641.5" y="591.7" width="3.3" height="17.3"/><rect x="1659.5" y="610.8" width="3.3" height="9.6"/><rect x="1666.6" y="613.9" width="3.3" height="16.1"/><rect x="1673.9" y="544.9" width="3.3" height="78.3"/><rect x="1688.2" y="555.2" width="3.3" height="40.3"/><rect x="1691.8" y="523.5" width="3.3" height="21.3"/><rect x="1695.4" y="495.8" width="3.3" height="29.9"/><rect x="1702.5" y="485.1" width="3.3" height="25.6"/><rect x="1706.2" y="463.8" width="3.3" height="12.8"/><rect x="1710" y="431.8" width="3.3" height="36.3"/><rect x="1725.3" y="401.9" width="3.3" height="44.8"/><rect x="1729.1" y="389.1" width="3.3" height="4.3"/><rect x="1744.5" y="454.4" width="3.3" height="3"/><rect x="1763.7" y="764.7" width="3.3" height="29.9"/><rect x="1771" y="643.9" width="3.3" height="52.5"/><rect x="1774.6" y="606.8" width="3.3" height="12.8"/><rect x="1781.8" y="584.1" width="3.3" height="24.8"/><rect x="1785.4" y="564.1" width="3.3" height="23.5"/><rect x="1789" y="549.1" width="3.3" height="8.5"/><rect x="1792.6" y="495.8" width="3.3" height="55.5"/><rect x="1799.8" y="503.2" width="3.3" height="7.8"/><rect x="1817.8" y="605.1" width="3.3" height="5.5"/><rect x="1821.4" y="588.5" width="3.3" height="12.2"/><rect x="1828.6" y="550.4" width="3.3" height="27"/><rect x="1839.5" y="596.2" width="3.3" height="16.6"/><rect x="1846.7" y="570.3" width="3.3" height="33.7"/><rect x="1853.8" y="585.2" width="3.3" height="14.4"/><rect x="1861.1" y="590.3" width="3.3" height="21.5"/><rect x="1872" y="586.7" width="3.3" height="5.8"/><rect x="1875.7" y="529.8" width="3.3" height="56.5"/><rect x="1897.3" y="520.9" width="3.3" height="49.9"/><rect x="1904.5" y="510.5" width="3.3" height="8.2"/><rect x="1908.1" y="493.2" width="3.3" height="12.2"/><rect x="1915.2" y="496.5" width="3.3" height="31"/><rect x="1925.9" y="529.8" width="3.3" height="10"/><rect x="1933.1" y="529.8" width="3.3" height="25.5"/><rect x="1940.3" y="523.8" width="3.3" height="23.7"/><rect x="1951.1" y="526.4" width="3.3" height="8.9"/><rect x="1958.3" y="500.9" width="3.3" height="7.8"/><rect x="1961.9" y="435.1" width="3.3" height="52.2"/><rect x="1965.5" y="424.2" width="3.3" height="5"/><rect x="1976.4" y="396.6" width="3.3" height="36.6"/><rect x="1990.9" y="217" width="3.3" height="248"/><rect x="1994.5" y="291.1" width="3.3" height="2.5"/><rect x="1998.1" y="252.3" width="3.3" height="18.9"/><rect x="2009" y="258.9" width="3.3" height="18.9"/><rect x="2012.6" y="276.9" width="3.3" height="3.3"/><rect x="2019.8" y="247" width="3.3" height="39.2"/><rect x="2023.4" y="235.7" width="3.3" height="15.6"/><rect x="2026.9" y="205.7" width="3.3" height="27.9"/><rect x="2030.5" y="169.8" width="3.3" height="19.3"/><rect x="2045" y="248" width="3.3" height="17.6"/><rect x="2066.8" y="684.5" width="3.3" height="10.6"/><rect x="2073.9" y="673.5" width="3.3" height="11.7"/><rect x="2077.5" y="658.7" width="3.3" height="14.9"/><rect x="2081.2" y="642.2" width="3.3" height="29.4"/><rect x="2102.9" y="649.3" width="3.3" height="3.9"/><rect x="2106.4" y="648.1" width="3.3" height="2.7"/><rect x="2110" y="642.2" width="3.3" height="4.7"/><rect x="2113.6" y="643" width="3.3" height="3.9"/><rect x="2124.4" y="637.5" width="3.3" height="14.5"/><rect x="2128.1" y="619.5" width="3.3" height="16.8"/><rect x="2135.3" y="599.2" width="3.3" height="21.5"/></g><g fill="#ff0000" stroke="#560000" stroke-width="1.1"><rect x="1" y="928.9" width="3.3" height="19.1"/><rect x="8.1" y="934.8" width="3.3" height="15.5"/><rect x="11.7" y="952.7" width="3.3" height="9.5"/><rect x="15.3" y="965.9" width="3.3" height="29.8"/><rect x="51.1" y="918.6" width="3.3" height="3.6"/><rect x="58.3" y="907.4" width="3.3" height="2.9"/><rect x="76.3" y="872.7" width="3.3" height="2.5"/><rect x="79.9" y="882.3" width="3.3" height="2.5"/><rect x="90.7" y="869.9" width="3.3" height="2.9"/><rect x="94.3" y="874.5" width="3.3" height="29.4"/><rect x="97.9" y="901.4" width="3.3" height="8.4"/><rect x="101.5" y="909.8" width="3.3" height="6"/><rect x="105.1" y="913.4" width="3.3" height="17.9"/><rect x="108.7" y="934.8" width="3.3" height="10.7"/><rect x="123.1" y="911" width="3.3" height="8.4"/><rect x="126.7" y="922.9" width="3.3" height="7.9"/><rect x="137.5" y="912.2" width="3.3" height="8.4"/><rect x="148.3" y="852" width="3.3" height="7.2"/><rect x="151.9" y="862.5" width="3.3" height="29.4"/><rect x="155.5" y="891.9" width="3.3" height="6"/><rect x="159.1" y="895.5" width="3.3" height="7.2"/><rect x="166.4" y="897.9" width="3.3" height="3.6"/><rect x="177.2" y="862.5" width="3.3" height="9.1"/><rect x="180.7" y="870.4" width="3.3" height="10.7"/><rect x="191.6" y="828.2" width="3.3" height="60.1"/><rect x="202.4" y="859.1" width="3.3" height="19.6"/><rect x="206" y="884.4" width="3.3" height="5.8"/><rect x="209.7" y="889.5" width="3.3" height="26"/><rect x="216.9" y="909.3" width="3.3" height="6.2"/><rect x="220.5" y="922.4" width="3.3" height="9.2"/><rect x="227.8" y="928.2" width="3.3" height="20.7"/><rect x="231.4" y="948.4" width="3.3" height="5.5"/><rect x="242.3" y="928.2" width="3.3" height="3.5"/><rect x="253.1" y="901.7" width="3.3" height="13.8"/><rect x="256.7" y="915.4" width="3.3" height="2.5"/><rect x="260.3" y="906.3" width="3.3" height="10.4"/><rect x="271.1" y="902.7" width="3.3" height="2.5"/><rect x="278.3" y="888.5" width="3.3" height="6.2"/><rect x="281.8" y="891.3" width="3.3" height="5.1"/><rect x="285.4" y="897.1" width="3.3" height="19.6"/><rect x="289" y="917.8" width="3.3" height="8.1"/><rect x="292.5" y="925.9" width="3.3" height="16.1"/><rect x="299.7" y="913.8" width="3.3" height="2.5"/><rect x="310.6" y="898.2" width="3.3" height="15"/><rect x="314.2" y="909.7" width="3.3" height="11.5"/><rect x="317.8" y="921.2" width="3.3" height="11.5"/><rect x="325" y="936.2" width="3.3" height="15"/><rect x="328.6" y="946.6" width="3.3" height="4.1"/><rect x="332.2" y="948.4" width="3.3" height="12"/><rect x="335.9" y="957.6" width="3.3" height="10.8"/><rect x="339.5" y="968.3" width="3.3" height="2.5"/><rect x="350.3" y="925.9" width="3.3" height="40.3"/><rect x="353.9" y="965" width="3.3" height="8.1"/><rect x="357.5" y="975.4" width="3.3" height="10.4"/><rect x="361.1" y="986.9" width="3.3" height="12.2"/><rect x="371.9" y="961.5" width="3.3" height="8.1"/><rect x="375.5" y="970.8" width="3.3" height="5.3"/><rect x="379.1" y="976.5" width="3.3" height="8.7"/><rect x="382.7" y="985.7" width="3.3" height="4.6"/><rect x="389.9" y="987.3" width="3.3" height="2.5"/><rect x="400.9" y="987.6" width="3.3" height="6"/><rect x="411.8" y="970.9" width="3.3" height="14.3"/><rect x="430" y="951.8" width="3.3" height="6"/><rect x="437.3" y="939.9" width="3.3" height="7.2"/><rect x="444.4" y="935.1" width="3.3" height="9.5"/><rect x="448" y="947" width="3.3" height="13.1"/><rect x="451.6" y="955.4" width="3.3" height="3.6"/><rect x="455.1" y="960.1" width="3.3" height="17.9"/><rect x="469.4" y="933.9" width="3.3" height="3.6"/><rect x="483.8" y="902.9" width="3.3" height="11.9"/><rect x="494.6" y="906.2" width="3.3" height="11.6"/><rect x="501.8" y="894.6" width="3.3" height="8.2"/><rect x="512.6" y="880.9" width="3.3" height="17.1"/><rect x="516.2" y="900" width="3.3" height="16.4"/><rect x="519.8" y="916.4" width="3.3" height="19.8"/><rect x="530.6" y="906.2" width="3.3" height="10.2"/><rect x="534.2" y="907.5" width="3.3" height="6.1"/><rect x="545" y="870" width="3.3" height="6.1"/><rect x="548.6" y="883.7" width="3.3" height="7.5"/><rect x="555.8" y="862.5" width="3.3" height="7.5"/><rect x="563.1" y="865.2" width="3.3" height="7.5"/><rect x="570.3" y="871.4" width="3.3" height="2.7"/><rect x="577.5" y="850.2" width="3.3" height="11.6"/><rect x="581.2" y="865.2" width="3.3" height="8.2"/><rect x="588.6" y="873.4" width="3.3" height="5.5"/><rect x="592.2" y="882.3" width="3.3" height="2.7"/><rect x="595.8" y="880.2" width="3.3" height="11.6"/><rect x="599.5" y="889.8" width="3.3" height="16.4"/><rect x="606.7" y="900" width="3.3" height="23.9"/><rect x="610.2" y="912.8" width="3.3" height="2.5"/><rect x="617.4" y="912.1" width="3.3" height="18.4"/><rect x="628.2" y="919.8" width="3.3" height="13"/><rect x="638.9" y="912.1" width="3.3" height="9.2"/><rect x="649.6" y="881.8" width="3.3" height="2.5"/><rect x="653.2" y="883" width="3.3" height="6.9"/><rect x="664" y="863.6" width="3.3" height="2.5"/><rect x="667.7" y="873" width="3.3" height="10"/><rect x="671.3" y="883.8" width="3.3" height="11.5"/><rect x="674.9" y="895.6" width="3.3" height="16.6"/><rect x="682" y="909.1" width="3.3" height="17.6"/><rect x="685.6" y="921.3" width="3.3" height="17.6"/><rect x="689.2" y="937.5" width="3.3" height="10.7"/><rect x="696.4" y="933.6" width="3.3" height="5.4"/><rect x="710.8" y="901.4" width="3.3" height="2.5"/><rect x="725.4" y="870" width="3.3" height="4.2"/><rect x="729" y="879.9" width="3.3" height="18.5"/><rect x="736.3" y="888.1" width="3.3" height="6.7"/><rect x="747.1" y="886.3" width="3.3" height="2.5"/><rect x="750.7" y="886.1" width="3.3" height="4.9"/><rect x="761.5" y="862.6" width="3.3" height="11.6"/><rect x="775.9" y="813.2" width="3.3" height="6.2"/><rect x="786.7" y="786" width="3.3" height="22.3"/><rect x="794.3" y="802" width="3.3" height="10.2"/><rect x="798.1" y="811" width="3.3" height="21.8"/><rect x="817.5" y="807.5" width="3.3" height="2.5"/><rect x="840.5" y="722.7" width="3.3" height="3.8"/><rect x="844.3" y="721.4" width="3.3" height="7.2"/><rect x="848" y="732.9" width="3.3" height="5.1"/><rect x="858.8" y="693.3" width="3.3" height="24.3"/><rect x="873.1" y="647.9" width="3.3" height="5.8"/><rect x="876.7" y="652.2" width="3.3" height="17.4"/><rect x="894.8" y="600.1" width="3.3" height="27.5"/><rect x="901.9" y="627.6" width="3.3" height="29"/><rect x="912.7" y="611.2" width="3.3" height="2.5"/><rect x="916.4" y="618.9" width="3.3" height="17.4"/><rect x="937.9" y="498.2" width="3.3" height="16.5"/><rect x="948.7" y="429" width="3.3" height="2.5"/><rect x="952.3" y="430.7" width="3.3" height="94.1"/><rect x="956" y="542.1" width="3.3" height="2.5"/><rect x="959.6" y="550.9" width="3.3" height="8.7"/><rect x="970.4" y="514.7" width="3.3" height="31.9"/><rect x="974.1" y="561" width="3.3" height="33.3"/><rect x="977.8" y="604.4" width="3.3" height="8.7"/><rect x="985" y="591.4" width="3.3" height="47.8"/><rect x="996" y="594.3" width="3.3" height="65.2"/><rect x="1003.1" y="637.7" width="3.3" height="16.4"/><rect x="1010.4" y="646.7" width="3.3" height="16.4"/><rect x="1014" y="656.8" width="3.3" height="5.5"/><rect x="1017.6" y="660.4" width="3.3" height="17.5"/><rect x="1032" y="641.8" width="3.3" height="37.6"/><rect x="1039.1" y="682.7" width="3.3" height="19.1"/><rect x="1046.3" y="699.1" width="3.3" height="8.2"/><rect x="1071.6" y="589.5" width="3.3" height="19.6"/><rect x="1075.2" y="613.2" width="3.3" height="10.9"/><rect x="1082.2" y="618.6" width="3.3" height="31.4"/><rect x="1089.1" y="622.2" width="3.3" height="19.6"/><rect x="1092.4" y="647.8" width="3.3" height="21.8"/><rect x="1095.8" y="667.7" width="3.3" height="17.7"/><rect x="1099.1" y="682.7" width="3.3" height="49.1"/><rect x="1102.5" y="739.4" width="3.3" height="8.7"/><rect x="1109.1" y="748.1" width="3.3" height="26.6"/><rect x="1112.5" y="763.1" width="3.3" height="13.3"/><rect x="1115.9" y="774.7" width="3.3" height="19.9"/><rect x="1126.1" y="793" width="3.3" height="10"/><rect x="1136.5" y="759.7" width="3.3" height="31.6"/><rect x="1143.7" y="786.3" width="3.3" height="44.9"/><rect x="1150.8" y="832.9" width="3.3" height="15"/><rect x="1158.1" y="826.2" width="3.3" height="6.6"/><rect x="1165.3" y="806.3" width="3.3" height="8.3"/><rect x="1183.3" y="761.4" width="3.3" height="13.3"/><rect x="1187" y="764.7" width="3.3" height="10"/><rect x="1190.6" y="756.4" width="3.3" height="21.6"/><rect x="1205" y="744.8" width="3.3" height="28.3"/><rect x="1215.8" y="754.7" width="3.3" height="11.6"/><rect x="1219.4" y="771.4" width="3.3" height="36.6"/><rect x="1223" y="811.3" width="3.3" height="3.3"/><rect x="1230.2" y="794.8" width="3.3" height="20.8"/><rect x="1237.3" y="797" width="3.3" height="9.7"/><rect x="1266.1" y="714.7" width="3.3" height="6.1"/><rect x="1277" y="652.7" width="3.3" height="13.2"/><rect x="1284.2" y="595.5" width="3.3" height="19.7"/><rect x="1287.8" y="597.3" width="3.3" height="35.8"/><rect x="1298.7" y="593" width="3.3" height="40.1"/><rect x="1309.6" y="629.5" width="3.3" height="37.6"/><rect x="1313.2" y="661.7" width="3.3" height="26.8"/><rect x="1324.1" y="668.8" width="3.3" height="17.9"/><rect x="1327.7" y="686.7" width="3.3" height="24.3"/><rect x="1335" y="699.3" width="3.3" height="16.1"/><rect x="1349.7" y="693.9" width="3.3" height="17.9"/><rect x="1360.4" y="700.3" width="3.3" height="2.5"/><rect x="1367.8" y="697.5" width="3.3" height="6.4"/><rect x="1371.5" y="703.9" width="3.3" height="2.5"/><rect x="1385.7" y="664.6" width="3.3" height="75.9"/><rect x="1392.8" y="673.1" width="3.3" height="45.8"/><rect x="1396.4" y="711.8" width="3.3" height="32.9"/><rect x="1403.4" y="777.2" width="3.3" height="20.9"/><rect x="1410.6" y="796" width="3.3" height="10.4"/><rect x="1421.3" y="768.9" width="3.3" height="5"/><rect x="1424.9" y="775.1" width="3.3" height="8.4"/><rect x="1428.6" y="788.9" width="3.3" height="8.4"/><rect x="1432.4" y="787.7" width="3.3" height="4.2"/><rect x="1436.3" y="798.1" width="3.3" height="8.4"/><rect x="1470.9" y="735.4" width="3.3" height="8.4"/><rect x="1474.7" y="737.5" width="3.3" height="14.6"/><rect x="1478.5" y="758.4" width="3.3" height="12.5"/><rect x="1482.3" y="768.9" width="3.3" height="4.2"/><rect x="1486.1" y="770.9" width="3.3" height="16.7"/><rect x="1493.4" y="806.4" width="3.3" height="8.4"/><rect x="1500.8" y="804.4" width="3.3" height="6.3"/><rect x="1511.6" y="788.9" width="3.3" height="11.3"/><rect x="1515.2" y="788.9" width="3.3" height="13.4"/><rect x="1518.9" y="802.3" width="3.3" height="21.7"/><rect x="1522.5" y="821.1" width="3.3" height="4.2"/><rect x="1544.1" y="719.6" width="3.3" height="3.3"/><rect x="1562.1" y="676" width="3.3" height="23"/><rect x="1565.7" y="704.8" width="3.3" height="3.8"/><rect x="1569.3" y="710.6" width="3.3" height="13.4"/><rect x="1576.4" y="722.1" width="3.3" height="3.8"/><rect x="1580" y="745.1" width="3.3" height="13.4"/><rect x="1583.6" y="743.2" width="3.3" height="9.6"/><rect x="1594.5" y="722.1" width="3.3" height="11.5"/><rect x="1619.8" y="580.1" width="3.3" height="36.4"/><rect x="1630.7" y="549.5" width="3.3" height="42.2"/><rect x="1634.3" y="582.1" width="3.3" height="17.3"/><rect x="1637.9" y="591.7" width="3.3" height="18.4"/><rect x="1645.1" y="591.7" width="3.3" height="19.2"/><rect x="1648.7" y="620.4" width="3.3" height="7.7"/><rect x="1652.2" y="641.5" width="3.3" height="9.6"/><rect x="1655.9" y="595.5" width="3.3" height="23"/><rect x="1663" y="614.7" width="3.3" height="19.2"/><rect x="1670.3" y="620.4" width="3.3" height="11.5"/><rect x="1681" y="549.5" width="3.3" height="24.9"/><rect x="1684.6" y="572.5" width="3.3" height="17.3"/><rect x="1699" y="495.8" width="3.3" height="10.7"/><rect x="1713.8" y="423.2" width="3.3" height="4.3"/><rect x="1721.5" y="432.6" width="3.3" height="2.5"/><rect x="1733" y="390.4" width="3.3" height="30.7"/><rect x="1736.8" y="421.1" width="3.3" height="34.1"/><rect x="1740.7" y="448.8" width="3.3" height="7.3"/><rect x="1748.3" y="470.2" width="3.3" height="61.9"/><rect x="1752.2" y="537.2" width="3.3" height="150.7"/><rect x="1756.1" y="707.1" width="3.3" height="59.8"/><rect x="1759.9" y="719.9" width="3.3" height="64"/><rect x="1767.4" y="664.4" width="3.3" height="46.9"/><rect x="1778.2" y="596.1" width="3.3" height="12.8"/><rect x="1796.2" y="503.2" width="3.3" height="3.3"/><rect x="1803.4" y="492.1" width="3.3" height="14.4"/><rect x="1810.5" y="506.5" width="3.3" height="10"/><rect x="1814.1" y="518.7" width="3.3" height="93.1"/><rect x="1832.2" y="556.4" width="3.3" height="37.7"/><rect x="1835.8" y="609.5" width="3.3" height="4.4"/><rect x="1843.1" y="581.8" width="3.3" height="24.4"/><rect x="1850.2" y="575.2" width="3.3" height="22.2"/><rect x="1857.5" y="585.2" width="3.3" height="32.1"/><rect x="1864.8" y="592.3" width="3.3" height="2.5"/><rect x="1879.2" y="523.8" width="3.3" height="5.3"/><rect x="1882.8" y="520.9" width="3.3" height="52.1"/><rect x="1886.4" y="571.9" width="3.3" height="25"/><rect x="1900.9" y="525.3" width="3.3" height="4.4"/><rect x="1911.6" y="500.9" width="3.3" height="24.4"/><rect x="1922.3" y="508.7" width="3.3" height="28.4"/><rect x="1929.5" y="527.5" width="3.3" height="10"/><rect x="1936.8" y="534.9" width="3.3" height="2.7"/><rect x="1943.9" y="522.4" width="3.3" height="14.6"/><rect x="1947.5" y="523.8" width="3.3" height="5.3"/><rect x="1969.2" y="423.2" width="3.3" height="16"/><rect x="1972.8" y="429.1" width="3.3" height="2.7"/><rect x="1980" y="395.9" width="3.3" height="21.6"/><rect x="1983.6" y="417.5" width="3.3" height="28.3"/><rect x="1987.3" y="445.8" width="3.3" height="13.3"/><rect x="2001.8" y="238" width="3.3" height="9"/><rect x="2005.4" y="255.6" width="3.3" height="11.3"/><rect x="2016.2" y="278.9" width="3.3" height="3.3"/><rect x="2034.1" y="160.5" width="3.3" height="14.3"/><rect x="2037.7" y="166.5" width="3.3" height="15"/><rect x="2041.3" y="184.8" width="3.3" height="65.5"/><rect x="2048.6" y="228" width="3.3" height="26.6"/><rect x="2052.2" y="601.1" width="3.3" height="101.8"/><rect x="2059.5" y="671.6" width="3.3" height="3.9"/><rect x="2063.2" y="667.7" width="3.3" height="27.4"/><rect x="2070.3" y="684.5" width="3.3" height="3.9"/><rect x="2084.9" y="646.1" width="3.3" height="5.9"/><rect x="2088.5" y="650.8" width="3.3" height="7.8"/><rect x="2092.1" y="652" width="3.3" height="2.7"/><rect x="2095.7" y="634.4" width="3.3" height="3.9"/><rect x="2099.3" y="636.4" width="3.3" height="17.6"/><rect x="2117.2" y="646.8" width="3.3" height="2.5"/><rect x="2120.8" y="646.9" width="3.3" height="16.8"/><rect x="2131.7" y="618.5" width="3.3" height="2.5"/></g><g fill="#7a1010" stroke="#560000" stroke-width="1.1"><rect x="25.9" y="953.9" width="3.3" height="2.5"/><rect x="29.5" y="953.9" width="3.3" height="2.5"/><rect x="61.9" y="920.5" width="3.3" height="2.5"/><rect x="119.5" y="910.3" width="3.3" height="2.5"/><rect x="195.2" y="886.8" width="3.3" height="2.5"/><rect x="393.6" y="984.5" width="3.3" height="2.5"/><rect x="415.4" y="984.4" width="3.3" height="2.5"/><rect x="426.3" y="955.8" width="3.3" height="2.5"/><rect x="433.6" y="948.2" width="3.3" height="2.5"/><rect x="480.2" y="897.6" width="3.3" height="2.5"/><rect x="552.2" y="872.2" width="3.3" height="2.5"/><rect x="613.8" y="913.2" width="3.3" height="2.5"/><rect x="631.8" y="927" width="3.3" height="2.5"/><rect x="700" y="941.6" width="3.3" height="2.5"/><rect x="790.4" y="803.9" width="3.3" height="2.5"/><rect x="805.9" y="830.2" width="3.3" height="2.5"/><rect x="813.7" y="827.6" width="3.3" height="2.5"/><rect x="945.1" y="438.1" width="3.3" height="2.5"/><rect x="1021.2" y="670.6" width="3.3" height="2.5"/><rect x="1042.7" y="699.2" width="3.3" height="2.5"/><rect x="1057.2" y="678.7" width="3.3" height="2.5"/><rect x="1105.8" y="746.9" width="3.3" height="2.5"/><rect x="1129.5" y="795.7" width="3.3" height="2.5"/><rect x="1147.3" y="820" width="3.3" height="2.5"/><rect x="1168.9" y="814.3" width="3.3" height="2.5"/><rect x="1208.6" y="765.1" width="3.3" height="2.5"/><rect x="1212.2" y="759.6" width="3.3" height="2.5"/><rect x="1305.9" y="624.6" width="3.3" height="2.5"/><rect x="1364.1" y="698.9" width="3.3" height="2.5"/><rect x="1375" y="692.7" width="3.3" height="2.5"/><rect x="1399.9" y="759.7" width="3.3" height="2.5"/><rect x="1440.1" y="789.3" width="3.3" height="2.5"/><rect x="1443.8" y="788.5" width="3.3" height="2.5"/><rect x="1447.7" y="792.7" width="3.3" height="2.5"/><rect x="1455.4" y="769.7" width="3.3" height="2.5"/><rect x="1459.3" y="767.6" width="3.3" height="2.5"/><rect x="1467.1" y="737.3" width="3.3" height="2.5"/><rect x="1504.4" y="800.2" width="3.3" height="2.5"/><rect x="1677.4" y="538.6" width="3.3" height="2.5"/><rect x="1717.6" y="424.1" width="3.3" height="2.5"/><rect x="1807" y="516.8" width="3.3" height="2.5"/><rect x="1825" y="577.3" width="3.3" height="2.5"/><rect x="1868.4" y="586.8" width="3.3" height="2.5"/><rect x="1890" y="586.1" width="3.3" height="2.5"/><rect x="1893.6" y="586.1" width="3.3" height="2.5"/><rect x="1918.7" y="503" width="3.3" height="2.5"/><rect x="1954.7" y="516.8" width="3.3" height="2.5"/><rect x="2055.8" y="674.3" width="3.3" height="2.5"/></g><circle cx="901.4" cy="591.3" r="11.6" fill="#0992fe"/><text x="901.5" y="595.3" fill="#ffffff" font-family="&quot;Liberation Sans&quot;, Arial, sans-serif" font-weight="bold" font-size="16.3" text-anchor="middle">P</text><circle cx="1196.5" cy="729.3" r="11.6" fill="#0992fe"/><text x="1196.6" y="733.3" fill="#ffffff" font-family="&quot;Liberation Sans&quot;, Arial, sans-serif" font-weight="bold" font-size="16.3" text-anchor="middle">P</text><path d="M2158.2 4V1143.8M2 1143H2159M2158 30.4H2163.5M2158 84.4H2163.5M2158 138.4H2163.5M2158 192.3H2163.5M2158 246.3H2163.5M2158 300.3H2163.5M2158 354.3H2163.5M2158 408.3H2163.5M2158 462.2H2163.5M2158 516.2H2163.5M2158 570.2H2163.5M2158 624.2H2163.5M2158 678.2H2163.5M2158 732.1H2163.5M2158 786.1H2163.5M2158 840.1H2163.5M2158 894.1H2163.5M2158 948.1H2163.5M2158 1002H2163.5M2158 1056H2163.5M2158 1110H2163.5M40.4 1143V1148.5M194.6 1143V1148.5M353.8 1143V1148.5M469.2 1143V1148.5M587.6 1143V1148.5M746.6 1143V1148.5M901.6 1143V1148.5M1057.8 1143V1148.5M1219.7 1143V1148.5M1378.6 1143V1148.5M1525.8 1143V1148.5M1669.6 1143V1148.5M1820.6 1143V1148.5M1976.7 1143V1148.5M2134.6 1143V1148.5" stroke="#505050" stroke-width="1.6" fill="none"/><g font-family="&quot;Liberation Sans&quot;, Arial, sans-serif" font-size="16.5" fill="#606060"><text x="2168" y="37.8">68.00%</text><text x="2168" y="91.8">64.00%</text><text x="2168" y="145.8">60.00%</text><text x="2168" y="199.7">56.00%</text><text x="2168" y="253.7">52.00%</text><text x="2168" y="307.7">48.00%</text><text x="2168" y="361.7">44.00%</text><text x="2168" y="415.7">40.00%</text><text x="2168" y="469.6">36.00%</text><text x="2168" y="523.6">32.00%</text><text x="2168" y="577.6">28.00%</text><text x="2168" y="631.6">24.00%</text><text x="2168" y="685.6">20.00%</text><text x="2168" y="739.5">16.00%</text><text x="2168" y="793.5">12.00%</text><text x="2168" y="847.5">8.00%</text><text x="2168" y="901.5">4.00%</text><text x="2168" y="955.5">0.00%</text><text x="2168" y="1009.4">-4.00%</text><text x="2168" y="1063.4">-8.00%</text><text x="2168" y="1117.4">-12.00%</text></g><g font-family="&quot;Liberation Sans&quot;, Arial, sans-serif" font-size="16.4" fill="#555555"><text x="26.5" y="1164.8">Jun</text><text x="569" y="1164.8" font-weight="bold" fill="#4a4a4a">2024</text><text x="1506.6" y="1164.8" font-weight="bold" fill="#4a4a4a">2025</text></g><rect x="2157.3" y="589.2" width="73.7" height="23.7" fill="#4a72e0"/><path d="M2158 601H2162.5" stroke="#ffffff" stroke-width="1.2" opacity="0.8"/><text x="2168" y="607" fill="#ffffff" font-family="&quot;Liberation Sans&quot;, Arial, sans-serif" font-size="16.5">25.84%</text><rect x="2157.3" y="713.6" width="73.7" height="23.5" fill="#7d0030"/><path d="M2158 725.4H2162.5" stroke="#ffffff" stroke-width="1.2" opacity="0.8"/><text x="2168" y="731.4" fill="#ffffff" font-family="&quot;Liberation Sans&quot;, Arial, sans-serif" font-size="16.5">16.65%</text><rect x="2157.3" y="737.1" width="73.7" height="24" fill="#7d0030"/><path d="M2158 749.1H2162.5" stroke="#ffffff" stroke-width="1.2" opacity="0.8"/><text x="2168" y="755.1" fill="#ffffff" font-family="&quot;Liberation Sans&quot;, Arial, sans-serif" font-size="16.5">14.79%</text><path d="M2158 737.1H2231" stroke="#c88" stroke-width="0.6" stroke-dasharray="3 2"/><rect x="2157.3" y="976" width="69" height="23.8" fill="#7d0030"/><path d="M2158 987.9H2162.5" stroke="#ffffff" stroke-width="1.2" opacity="0.8"/><text x="2168" y="993.9" fill="#ffffff" font-family="&quot;Liberation Sans&quot;, Arial, sans-serif" font-size="16.5">-2.81%</text><g font-family="&quot;Liberation Sans&quot;, Arial, sans-serif"><rect x="10" y="23" width="17.5" height="17" fill="none" stroke="#555" stroke-width="1.4" rx="1"/><path d="M12.5 32.2H25.5" stroke="#555" stroke-width="1.4"/><text x="38.5" y="41.8" font-size="26.5" fill="#4a4a4a" textLength="285" lengthAdjust="spacingAndGlyphs">Copper Futures, D, (CFD)</text><path d="M331.5 30.5h11l-5.5 5.5z" fill="#bbbbbb"/><rect x="358.6" y="22.4" width="20.5" height="20.5" fill="#d9d9d9"/><ellipse cx="368.9" cy="32.6" rx="6.8" ry="5.5" fill="none" stroke="#fff" stroke-width="1.8"/><circle cx="368.9" cy="32.6" r="2.3" fill="#fff"/><rect x="383.3" y="22.4" width="20.5" height="20.5" fill="#d9d9d9"/><path d="M396.8 32.6L400.9 32.6M395.9 35L398.8 37.9M393.6 35.9L393.6 40M391.2 35L388.3 37.9M390.3 32.6L386.2 32.6M391.2 30.3L388.3 27.4M393.6 29.4L393.6 25.3M395.9 30.3L398.8 27.4" stroke="#fff" stroke-width="2.6"/><circle cx="393.6" cy="32.6" r="5.3" fill="#fff"/><circle cx="393.6" cy="32.6" r="2.3" fill="#d9d9d9"/><text x="416.3" y="41.8" font-size="23" fill="#4a4a4a" textLength="13.4" lengthAdjust="spacingAndGlyphs">O</text><text x="434.2" y="41.8" font-size="23" fill="#1d5a2e" stroke="#1d5a2e" stroke-width="0.3" textLength="64.8" lengthAdjust="spacingAndGlyphs">4.5830</text><text x="515.8" y="41.8" font-size="23" fill="#4a4a4a" textLength="12.2" lengthAdjust="spacingAndGlyphs">H</text><text x="531.4" y="41.8" font-size="23" fill="#1d5a2e" stroke="#1d5a2e" stroke-width="0.3" textLength="66" lengthAdjust="spacingAndGlyphs">4.6473</text><text x="614.2" y="41.8" font-size="23" fill="#4a4a4a" textLength="10" lengthAdjust="spacingAndGlyphs">L</text><text x="627.6" y="41.8" font-size="23" fill="#1d5a2e" stroke="#1d5a2e" stroke-width="0.3" textLength="64.8" lengthAdjust="spacingAndGlyphs">4.5410</text><text x="708" y="41.8" font-size="23" fill="#4a4a4a" textLength="12.4" lengthAdjust="spacingAndGlyphs">C</text><text x="723.7" y="41.8" font-size="23" fill="#1d5a2e" stroke="#1d5a2e" stroke-width="0.3" textLength="64.9" lengthAdjust="spacingAndGlyphs">4.6430</text><text x="8.9" y="69.8" font-size="18" fill="#4a4a4a" textLength="98.4" lengthAdjust="spacingAndGlyphs">MPB3, (CFD)</text><path d="M114.5 61.3h11l-5.5 5.5z" fill="#bbbbbb"/><rect x="141.3" y="53.3" width="20.5" height="20.5" fill="#d9d9d9"/><ellipse cx="151.6" cy="63.5" rx="6.8" ry="5.5" fill="none" stroke="#fff" stroke-width="1.8"/><circle cx="151.6" cy="63.5" r="2.3" fill="#fff"/><rect x="166" y="53.3" width="20.5" height="20.5" fill="#d9d9d9"/><path d="M179.5 63.5L183.6 63.5M178.6 65.9L181.5 68.8M176.2 66.8L176.2 70.9M173.9 65.9L171 68.8M173 63.5L168.9 63.5M173.9 61.2L171 58.3M176.2 60.3L176.2 56.2M178.6 61.2L181.5 58.3" stroke="#fff" stroke-width="2.6"/><circle cx="176.2" cy="63.5" r="5.3" fill="#fff"/><circle cx="176.2" cy="63.5" r="2.3" fill="#d9d9d9"/><rect x="192.3" y="53.3" width="20.5" height="20.5" fill="#d9d9d9"/><path d="M196.3 57.3L208.8 69.8M208.8 57.3L196.3 69.8" stroke="#fff" stroke-width="1.8"/><text x="226.3" y="69.8" font-size="17.5" fill="#7a0630" stroke="#7a0630" stroke-width="0.3" textLength="61.7" lengthAdjust="spacingAndGlyphs">1997.70</text><text x="8.9" y="101" font-size="18" fill="#4a4a4a" textLength="89.5" lengthAdjust="spacingAndGlyphs">MZN, (CFD)</text><path d="M106.4 92.5h11l-5.5 5.5z" fill="#bbbbbb"/><rect x="133.3" y="84" width="20.5" height="20.5" fill="#d9d9d9"/><ellipse cx="143.6" cy="94.2" rx="6.8" ry="5.5" fill="none" stroke="#fff" stroke-width="1.8"/><circle cx="143.6" cy="94.2" r="2.3" fill="#fff"/><rect x="158.3" y="84" width="20.5" height="20.5" fill="#d9d9d9"/><path d="M171.8 94.2L175.9 94.2M170.9 96.6L173.8 99.5M168.6 97.5L168.6 101.6M166.2 96.6L163.3 99.5M165.3 94.2L161.2 94.2M166.2 91.9L163.3 89M168.6 91L168.6 86.9M170.9 91.9L173.8 89" stroke="#fff" stroke-width="2.6"/><circle cx="168.6" cy="94.2" r="5.3" fill="#fff"/><circle cx="168.6" cy="94.2" r="2.3" fill="#d9d9d9"/><rect x="184.3" y="84" width="20.5" height="20.5" fill="#d9d9d9"/><path d="M188.3 88L200.8 100.5M200.8 88L188.3 100.5" stroke="#fff" stroke-width="1.8"/><text x="217.4" y="101" font-size="17.5" fill="#7a0630" stroke="#7a0630" stroke-width="0.3" textLength="61.6" lengthAdjust="spacingAndGlyphs">2868.50</text><text x="8.9" y="131.6" font-size="18" fill="#4a4a4a" textLength="88.6" lengthAdjust="spacingAndGlyphs">MAL, (CFD)</text><path d="M104.7 123.1h11l-5.5 5.5z" fill="#bbbbbb"/><rect x="131.5" y="114.5" width="20.5" height="20.5" fill="#d9d9d9"/><ellipse cx="141.8" cy="124.8" rx="6.8" ry="5.5" fill="none" stroke="#fff" stroke-width="1.8"/><circle cx="141.8" cy="124.8" r="2.3" fill="#fff"/><rect x="157" y="114.5" width="20.5" height="20.5" fill="#d9d9d9"/><path d="M170.5 124.8L174.6 124.8M169.6 127.1L172.5 130M167.2 128L167.2 132.1M164.9 127.1L162 130M164 124.8L159.9 124.8M164.9 122.4L162 119.5M167.2 121.5L167.2 117.4M169.6 122.4L172.5 119.5" stroke="#fff" stroke-width="2.6"/><circle cx="167.2" cy="124.8" r="5.3" fill="#fff"/><circle cx="167.2" cy="124.8" r="2.3" fill="#d9d9d9"/><rect x="182.5" y="114.5" width="20.5" height="20.5" fill="#d9d9d9"/><path d="M186.5 118.5L199 131M199 118.5L186.5 131" stroke="#fff" stroke-width="1.8"/><text x="215.6" y="131.6" font-size="17.5" fill="#7a0630" stroke="#7a0630" stroke-width="0.3" textLength="61.7" lengthAdjust="spacingAndGlyphs">2621.25</text></g><text x="21.3" y="1117" font-family="&quot;Liberation Sans&quot;, Arial, sans-serif" font-weight="bold" font-size="32.5" fill="#0a0a0a" stroke="#0a0a0a" stroke-width="1.1" textLength="135" lengthAdjust="spacingAndGlyphs">Investing</text><rect x="109.8" y="1088.5" width="10" height="9.6" fill="#ffffff"/><ellipse cx="115.2" cy="1094.6" rx="4.1" ry="2.3" transform="rotate(-48 115.2 1094.6)" fill="#f7a21b"/><text x="157.2" y="1117" font-family="&quot;Liberation Sans&quot;, Arial, sans-serif" font-size="25" fill="#555555" textLength="42.9" lengthAdjust="spacingAndGlyphs">.com</text></svg></body></html>
